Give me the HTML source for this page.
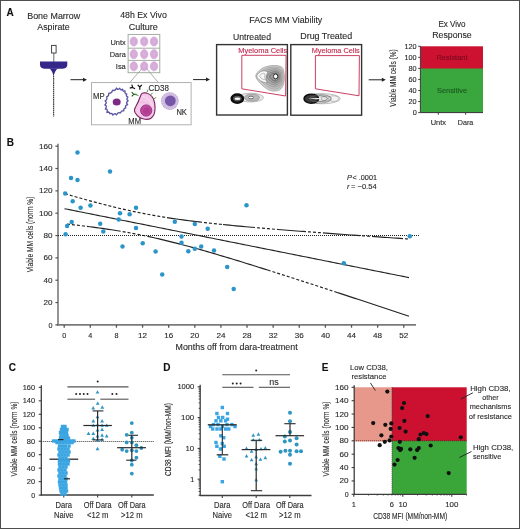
<!DOCTYPE html>
<html><head><meta charset="utf-8"><style>
html,body{margin:0;padding:0;background:#fff;}
svg{display:block;will-change:transform;}
text{font-family:"Liberation Sans", sans-serif;stroke-width:0.12px;}
</style></head><body>
<svg width="520" height="529" viewBox="0 0 520 529">
<rect x="0" y="0" width="520" height="529" fill="#fff"/>
<text x="6.60" y="16.30" font-size="10" fill="#111" stroke="#111" font-weight="bold">A</text>
<text x="53.70" y="19.00" font-size="9.6" fill="#2a2a2a" stroke="#2a2a2a" text-anchor="middle" textLength="53" lengthAdjust="spacingAndGlyphs">Bone Marrow</text>
<text x="53.50" y="29.80" font-size="9.6" fill="#2a2a2a" stroke="#2a2a2a" text-anchor="middle" textLength="32.3" lengthAdjust="spacingAndGlyphs">Aspirate</text>
<rect x="51.60" y="45.40" width="4.50" height="7.60" fill="#fff" stroke="#333" stroke-width="0.9"/>
<line x1="53.80" y1="53.00" x2="53.80" y2="62.00" stroke="#444" stroke-width="0.8"/>
<path d="M40,61.5 L67.3,61.5 L67.3,65 Q67,68.8 62,68.8 L45,68.8 Q40.3,68.8 40,65 Z" fill="#35278a"/>
<path d="M49.2,68.5 L58,68.5 Q54.5,70.5 53.6,77 Q52.7,70.5 49.2,68.5 Z" fill="#35278a"/>
<line x1="53.60" y1="76.00" x2="53.60" y2="116.50" stroke="#444" stroke-width="1.2" stroke-dasharray="1.6,0.5"/>
<line x1="70.50" y1="79.70" x2="84.00" y2="79.70" stroke="#222" stroke-width="1"/>
<path d="M87.00,79.70 L83.00,77.70 L83.00,81.70 Z" fill="#222"/>
<text x="143.50" y="18.30" font-size="9.6" fill="#2a2a2a" stroke="#2a2a2a" text-anchor="middle" textLength="46.7" lengthAdjust="spacingAndGlyphs">48h Ex Vivo</text>
<text x="143.20" y="29.80" font-size="9.6" fill="#2a2a2a" stroke="#2a2a2a" text-anchor="middle" textLength="29" lengthAdjust="spacingAndGlyphs">Culture</text>
<rect x="128.10" y="34.40" width="31.70" height="38.30" fill="#fff" stroke="#9aa59a" stroke-width="0.9"/>
<line x1="128.10" y1="48.20" x2="159.80" y2="48.20" stroke="#9aa59a" stroke-width="0.9"/>
<line x1="128.10" y1="60.40" x2="159.80" y2="60.40" stroke="#9aa59a" stroke-width="0.9"/>
<ellipse cx="133.8" cy="41.5" rx="3.7" ry="4.6" fill="#dab0dc" stroke="#cfa0d2" stroke-width="0.6"/>
<ellipse cx="133.8" cy="41.5" rx="2.2" ry="2.8" fill="none" stroke="#d0a0d4" stroke-width="0.6"/>
<ellipse cx="144.2" cy="41.5" rx="3.7" ry="4.6" fill="#dab0dc" stroke="#cfa0d2" stroke-width="0.6"/>
<ellipse cx="144.2" cy="41.5" rx="2.2" ry="2.8" fill="none" stroke="#d0a0d4" stroke-width="0.6"/>
<ellipse cx="154.0" cy="41.5" rx="3.7" ry="4.6" fill="#dab0dc" stroke="#cfa0d2" stroke-width="0.6"/>
<ellipse cx="154.0" cy="41.5" rx="2.2" ry="2.8" fill="none" stroke="#d0a0d4" stroke-width="0.6"/>
<ellipse cx="133.8" cy="54.2" rx="3.7" ry="4.6" fill="#dab0dc" stroke="#cfa0d2" stroke-width="0.6"/>
<ellipse cx="133.8" cy="54.2" rx="2.2" ry="2.8" fill="none" stroke="#d0a0d4" stroke-width="0.6"/>
<ellipse cx="144.2" cy="54.2" rx="3.7" ry="4.6" fill="#dab0dc" stroke="#cfa0d2" stroke-width="0.6"/>
<ellipse cx="144.2" cy="54.2" rx="2.2" ry="2.8" fill="none" stroke="#d0a0d4" stroke-width="0.6"/>
<ellipse cx="154.0" cy="54.2" rx="3.7" ry="4.6" fill="#dab0dc" stroke="#cfa0d2" stroke-width="0.6"/>
<ellipse cx="154.0" cy="54.2" rx="2.2" ry="2.8" fill="none" stroke="#d0a0d4" stroke-width="0.6"/>
<ellipse cx="133.8" cy="66.3" rx="3.7" ry="4.6" fill="#dab0dc" stroke="#cfa0d2" stroke-width="0.6"/>
<ellipse cx="133.8" cy="66.3" rx="2.2" ry="2.8" fill="none" stroke="#d0a0d4" stroke-width="0.6"/>
<ellipse cx="144.2" cy="66.3" rx="3.7" ry="4.6" fill="#dab0dc" stroke="#cfa0d2" stroke-width="0.6"/>
<ellipse cx="144.2" cy="66.3" rx="2.2" ry="2.8" fill="none" stroke="#d0a0d4" stroke-width="0.6"/>
<ellipse cx="154.0" cy="66.3" rx="3.7" ry="4.6" fill="#dab0dc" stroke="#cfa0d2" stroke-width="0.6"/>
<ellipse cx="154.0" cy="66.3" rx="2.2" ry="2.8" fill="none" stroke="#d0a0d4" stroke-width="0.6"/>
<text x="125.80" y="44.70" font-size="7.5" fill="#2a2a2a" stroke="#2a2a2a" text-anchor="end" textLength="15.3" lengthAdjust="spacingAndGlyphs">Untx</text>
<text x="125.80" y="56.80" font-size="7.5" fill="#2a2a2a" stroke="#2a2a2a" text-anchor="end" textLength="16" lengthAdjust="spacingAndGlyphs">Dara</text>
<text x="125.80" y="68.90" font-size="7.5" fill="#2a2a2a" stroke="#2a2a2a" text-anchor="end" textLength="10" lengthAdjust="spacingAndGlyphs">Isa</text>
<line x1="142.00" y1="68.50" x2="129.80" y2="82.50" stroke="#8a8a8a" stroke-width="0.7"/>
<line x1="146.50" y1="68.50" x2="158.30" y2="82.50" stroke="#8a8a8a" stroke-width="0.7"/>
<rect x="91.50" y="82.60" width="99.60" height="42.20" fill="none" stroke="#a8a8a8" stroke-width="0.9"/>
<text x="93.00" y="99.00" font-size="8.5" fill="#2a2a2a" stroke="#2a2a2a" textLength="11.6" lengthAdjust="spacingAndGlyphs">MP</text>
<path d="M108.66,95.01 L108.81,93.23 L110.56,93.04 L111.72,92.11 L112.59,90.17 L114.20,90.53 L115.39,89.94 L116.48,88.08 L117.50,89.30 L118.50,89.23 L119.73,88.25 L120.42,89.49 L121.32,89.79 L122.64,89.18 L122.92,90.64 L123.64,91.20 L125.04,90.97 L124.94,92.67 L125.51,93.54 L126.67,93.95 L126.40,95.43 L126.70,96.41 L127.92,97.01 L127.00,98.55 L127.02,99.72 L128.16,100.81 L126.82,102.09 L126.61,103.24 L127.62,104.64 L125.98,105.34 L125.56,106.37 L125.71,107.80 L124.49,108.34 L123.84,109.25 L123.69,110.82 L122.28,110.82 L121.32,111.49 L120.47,112.84 L119.00,112.67 L117.74,113.15 L116.48,114.87 L115.28,113.78 L114.18,113.89 L112.82,115.07 L112.13,113.71 L111.14,113.45 L109.85,113.71 L109.34,112.58 L108.57,111.99 L106.93,112.39 L107.39,110.44 L106.95,109.43 L105.37,109.10 L106.34,107.08 L106.16,105.83 L104.90,104.90 L106.09,103.38 L106.18,102.18 L105.16,100.84 L106.61,99.68 L106.96,98.42 L106.68,96.83 L107.98,96.06 Z" fill="#fff" stroke="#5a56a4" stroke-width="1.35" stroke-linejoin="round"/>
<ellipse cx="116.7" cy="102.1" rx="4.0" ry="3.5" fill="#7e2a84"/>
<path d="M143,93 C147,92.5 151.5,94.5 153.5,99 C155.5,104 155.5,111 154,114.5 C152,118.5 148.5,119.8 145,119.3 C141,118.8 137,116 135,112.5 C134,110.5 134.5,108.5 135.8,106.5 C137.5,103.5 139.5,99 140.5,96 C141,94.3 141.8,93.3 143,93 Z" fill="#f3c8e8" stroke="#7a2262" stroke-width="1.1"/>
<path d="M142,96.5 C146.5,96.5 151,100.5 152.5,106" fill="none" stroke="#f9e0f2" stroke-width="0.9"/>
<path d="M139,103 C143,101 149,103 151.5,108" fill="none" stroke="#eab4dc" stroke-width="0.7"/>
<circle cx="146.2" cy="110.5" r="5.6" fill="#c04a9e" stroke="#8e2a78" stroke-width="0.9"/>
<circle cx="146.5" cy="110.8" r="3.5" fill="#b03c94"/>
<line x1="147.00" y1="92.20" x2="148.00" y2="89.60" stroke="#5a9a3a" stroke-width="1.0"/>
<line x1="150.60" y1="95.00" x2="152.60" y2="92.80" stroke="#5a9a3a" stroke-width="1.0"/>
<line x1="153.60" y1="99.00" x2="156.20" y2="97.40" stroke="#5a9a3a" stroke-width="1.0"/>
<text x="148.60" y="91.30" font-size="9" fill="#2a2a2a" stroke="#2a2a2a" textLength="20.4" lengthAdjust="spacingAndGlyphs">CD38</text>
<g transform="translate(132.6,87.4) rotate(-60)"><path d="M0,0 L0,2.8 M0,0 L-2.1,-2.1 M0,0 L2.1,-2.1" stroke="#111" stroke-width="1.2" fill="none"/></g>
<g transform="translate(139.8,87.0) rotate(0)"><path d="M0,0 L0,2.8 M0,0 L-2.1,-2.1 M0,0 L2.1,-2.1" stroke="#111" stroke-width="1.2" fill="none"/></g>
<g transform="translate(133.8,94.3) rotate(-90)"><path d="M0,0 L0,2.8 M0,0 L-2.1,-2.1 M0,0 L2.1,-2.1" stroke="#2a5a2a" stroke-width="1.2" fill="none"/></g>
<path d="M134.5,94.3 L138.5,95.5" stroke="#4a8a3a" stroke-width="0.9"/>
<text x="128.30" y="124.30" font-size="8.5" fill="#2a2a2a" stroke="#2a2a2a" textLength="12.7" lengthAdjust="spacingAndGlyphs">MM</text>
<circle cx="169.8" cy="101" r="8.7" fill="#cdbade"/>
<circle cx="169.8" cy="101" r="7.4" fill="none" stroke="#e4d8ee" stroke-width="0.9" stroke-dasharray="1,1.3"/>
<circle cx="169.8" cy="101" r="8.4" fill="none" stroke="#b49ccc" stroke-width="0.8" stroke-dasharray="0.8,1"/>
<circle cx="170.3" cy="100.8" r="5.4" fill="#7656a8"/>
<text x="176.40" y="115.40" font-size="8.5" fill="#2a2a2a" stroke="#2a2a2a" textLength="10.5" lengthAdjust="spacingAndGlyphs">NK</text>
<line x1="193.10" y1="79.60" x2="207.00" y2="79.60" stroke="#222" stroke-width="1"/>
<path d="M210.00,79.60 L206.00,77.60 L206.00,81.60 Z" fill="#222"/>
<text x="285.80" y="23.20" font-size="9" fill="#2a2a2a" stroke="#2a2a2a" text-anchor="middle" textLength="73" lengthAdjust="spacingAndGlyphs">FACS MM Viability</text>
<text x="252.00" y="39.60" font-size="9" fill="#2a2a2a" stroke="#2a2a2a" text-anchor="middle" textLength="38" lengthAdjust="spacingAndGlyphs">Untreated</text>
<text x="326.20" y="39.40" font-size="9" fill="#2a2a2a" stroke="#2a2a2a" text-anchor="middle" textLength="51.9" lengthAdjust="spacingAndGlyphs">Drug Treated</text>
<rect x="216.60" y="44.60" width="70.80" height="70.40" fill="none" stroke="#333" stroke-width="1.4"/>
<rect x="290.80" y="44.60" width="70.80" height="70.60" fill="none" stroke="#333" stroke-width="1.4"/>
<path d="M241.8,55.3 L286.1,55.3 L285.6,96.0 L241.8,88.8 Z" fill="none" stroke="#c42a50" stroke-width="0.9"/>
<path d="M315.4,55.6 L359.4,55.6 L359.0,95.8 L315.4,88.8 Z" fill="none" stroke="#c42a50" stroke-width="0.9"/>
<text x="238.20" y="53.00" font-size="7.5" fill="#c42a50" stroke="#c42a50" textLength="49.1" lengthAdjust="spacingAndGlyphs">Myeloma Cells</text>
<text x="311.70" y="53.20" font-size="7.5" fill="#c42a50" stroke="#c42a50" textLength="48.1" lengthAdjust="spacingAndGlyphs">Myeloma Cells</text>
<path d="M255.80,76.00 L255.92,75.19 L256.22,74.36 L256.67,73.53 L257.24,72.71 L257.92,71.90 L258.68,71.12 L259.49,70.38 L260.33,69.69 L261.17,69.06 L262.00,68.50 L262.85,68.00 L263.76,67.56 L264.74,67.16 L265.75,66.80 L266.79,66.49 L267.85,66.23 L268.92,66.01 L269.97,65.83 L271.00,65.70 L272.00,65.60 L273.00,65.54 L274.04,65.52 L275.10,65.53 L276.16,65.58 L277.21,65.68 L278.21,65.83 L279.17,66.03 L280.04,66.29 L280.83,66.61 L281.50,67.00 L282.06,67.46 L282.53,67.99 L282.91,68.59 L283.23,69.25 L283.48,69.96 L283.68,70.72 L283.85,71.50 L283.98,72.32 L284.09,73.15 L284.20,74.00 L284.29,74.90 L284.36,75.87 L284.39,76.90 L284.39,77.97 L284.36,79.05 L284.29,80.13 L284.18,81.18 L284.03,82.20 L283.84,83.14 L283.60,84.00 L283.32,84.80 L283.01,85.58 L282.65,86.33 L282.26,87.04 L281.83,87.71 L281.35,88.33 L280.83,88.90 L280.27,89.40 L279.66,89.84 L279.00,90.20 L278.28,90.49 L277.47,90.72 L276.61,90.89 L275.69,91.00 L274.74,91.06 L273.78,91.05 L272.80,90.98 L271.84,90.85 L270.90,90.65 L270.00,90.40 L269.12,90.07 L268.22,89.65 L267.33,89.16 L266.43,88.60 L265.54,87.99 L264.67,87.34 L263.83,86.65 L263.01,85.94 L262.23,85.22 L261.50,84.50 L260.76,83.75 L259.99,82.95 L259.21,82.11 L258.45,81.24 L257.73,80.35 L257.09,79.45 L256.55,78.56 L256.13,77.68 L255.88,76.82 Z" fill="#cfcfcf" stroke="#8a8a8a" stroke-width="0.6"/>
<path d="M258.57,76.08 L258.68,75.39 L258.93,74.68 L259.32,73.96 L259.81,73.25 L260.39,72.56 L261.04,71.89 L261.74,71.25 L262.46,70.66 L263.19,70.11 L263.90,69.63 L264.63,69.21 L265.42,68.82 L266.26,68.48 L267.13,68.17 L268.03,67.91 L268.94,67.68 L269.85,67.49 L270.76,67.34 L271.65,67.22 L272.50,67.14 L273.36,67.09 L274.26,67.07 L275.17,67.08 L276.08,67.12 L276.98,67.21 L277.85,67.34 L278.67,67.51 L279.42,67.74 L280.10,68.01 L280.67,68.34 L281.16,68.74 L281.56,69.20 L281.89,69.71 L282.16,70.28 L282.38,70.89 L282.55,71.54 L282.69,72.22 L282.81,72.92 L282.91,73.64 L283.00,74.36 L283.07,75.13 L283.13,75.97 L283.16,76.86 L283.16,77.78 L283.13,78.71 L283.07,79.64 L282.98,80.54 L282.85,81.41 L282.68,82.22 L282.48,82.96 L282.24,83.65 L281.97,84.32 L281.67,84.97 L281.33,85.58 L280.95,86.16 L280.54,86.69 L280.10,87.18 L279.61,87.61 L279.09,87.99 L278.52,88.30 L277.90,88.55 L277.21,88.74 L276.47,88.89 L275.68,88.99 L274.86,89.03 L274.03,89.02 L273.19,88.96 L272.37,88.85 L271.56,88.69 L270.78,88.47 L270.02,88.18 L269.26,87.82 L268.48,87.40 L267.71,86.92 L266.95,86.40 L266.20,85.84 L265.48,85.25 L264.78,84.64 L264.11,84.02 L263.47,83.39 L262.84,82.75 L262.18,82.06 L261.50,81.34 L260.85,80.59 L260.23,79.82 L259.68,79.05 L259.21,78.28 L258.86,77.53 L258.64,76.79 Z" fill="#c4c4c4" stroke="#8a8a8a" stroke-width="0.5"/>
<path d="M261.34,76.17 L261.43,75.58 L261.64,74.99 L261.97,74.39 L262.38,73.80 L262.87,73.22 L263.41,72.65 L264.00,72.12 L264.60,71.62 L265.21,71.17 L265.81,70.77 L266.42,70.41 L267.08,70.09 L267.78,69.80 L268.51,69.55 L269.26,69.32 L270.02,69.13 L270.79,68.97 L271.55,68.85 L272.29,68.75 L273.01,68.68 L273.73,68.64 L274.48,68.62 L275.24,68.63 L276.00,68.67 L276.76,68.74 L277.48,68.85 L278.17,68.99 L278.80,69.18 L279.36,69.41 L279.85,69.69 L280.25,70.02 L280.59,70.40 L280.87,70.84 L281.09,71.31 L281.27,71.82 L281.42,72.36 L281.54,72.93 L281.63,73.52 L281.72,74.12 L281.79,74.73 L281.86,75.37 L281.90,76.07 L281.93,76.82 L281.93,77.58 L281.90,78.36 L281.85,79.14 L281.78,79.90 L281.67,80.63 L281.53,81.31 L281.36,81.93 L281.16,82.50 L280.93,83.07 L280.68,83.60 L280.39,84.12 L280.08,84.60 L279.74,85.05 L279.37,85.46 L278.96,85.82 L278.52,86.13 L278.05,86.39 L277.53,86.60 L276.95,86.77 L276.33,86.89 L275.67,86.97 L274.98,87.01 L274.29,87.00 L273.59,86.95 L272.89,86.86 L272.22,86.72 L271.57,86.54 L270.93,86.30 L270.29,86.00 L269.64,85.64 L269.00,85.24 L268.36,84.80 L267.73,84.33 L267.12,83.84 L266.54,83.33 L265.98,82.81 L265.45,82.29 L264.92,81.75 L264.36,81.17 L263.80,80.57 L263.25,79.94 L262.73,79.30 L262.27,78.65 L261.88,78.01 L261.58,77.38 L261.40,76.76 Z" fill="#bababa" stroke="#7a7a7a" stroke-width="0.5"/>
<path d="M264.12,76.25 L264.19,75.78 L264.36,75.30 L264.62,74.82 L264.95,74.34 L265.34,73.87 L265.78,73.42 L266.25,72.99 L266.74,72.59 L267.23,72.23 L267.71,71.90 L268.20,71.61 L268.74,71.35 L269.30,71.12 L269.89,70.92 L270.49,70.74 L271.11,70.59 L271.72,70.46 L272.34,70.35 L272.93,70.28 L273.51,70.22 L274.09,70.19 L274.70,70.17 L275.31,70.18 L275.93,70.21 L276.53,70.27 L277.12,70.35 L277.67,70.47 L278.18,70.62 L278.63,70.81 L279.02,71.03 L279.35,71.30 L279.62,71.61 L279.84,71.96 L280.02,72.34 L280.17,72.75 L280.29,73.19 L280.38,73.64 L280.46,74.12 L280.53,74.60 L280.59,75.09 L280.64,75.61 L280.68,76.18 L280.70,76.77 L280.70,77.39 L280.68,78.02 L280.64,78.65 L280.58,79.26 L280.49,79.85 L280.38,80.39 L280.24,80.89 L280.08,81.36 L279.90,81.81 L279.69,82.24 L279.46,82.66 L279.21,83.05 L278.93,83.41 L278.63,83.73 L278.31,84.03 L277.95,84.28 L277.57,84.49 L277.15,84.66 L276.69,84.79 L276.18,84.89 L275.65,84.95 L275.10,84.98 L274.54,84.98 L273.98,84.94 L273.42,84.86 L272.87,84.75 L272.35,84.60 L271.84,84.41 L271.32,84.17 L270.80,83.88 L270.28,83.56 L269.77,83.21 L269.26,82.83 L268.77,82.43 L268.30,82.02 L267.85,81.60 L267.42,81.18 L266.99,80.75 L266.55,80.28 L266.09,79.80 L265.65,79.29 L265.24,78.77 L264.86,78.25 L264.55,77.74 L264.31,77.23 L264.16,76.73 Z" fill="#b0b0b0" stroke="#6a6a6a" stroke-width="0.5"/>
<path d="M266.89,76.34 L266.94,75.98 L267.07,75.62 L267.27,75.25 L267.52,74.89 L267.82,74.53 L268.15,74.19 L268.51,73.86 L268.88,73.56 L269.25,73.28 L269.62,73.04 L269.99,72.82 L270.39,72.62 L270.82,72.44 L271.27,72.29 L271.73,72.15 L272.19,72.04 L272.66,71.94 L273.12,71.86 L273.58,71.80 L274.02,71.76 L274.46,71.73 L274.91,71.72 L275.38,71.73 L275.85,71.75 L276.31,71.80 L276.75,71.86 L277.17,71.95 L277.56,72.06 L277.90,72.21 L278.20,72.38 L278.44,72.58 L278.65,72.81 L278.82,73.08 L278.96,73.37 L279.07,73.68 L279.16,74.01 L279.23,74.36 L279.29,74.72 L279.34,75.08 L279.38,75.46 L279.42,75.85 L279.45,76.28 L279.47,76.73 L279.47,77.20 L279.45,77.68 L279.42,78.15 L279.37,78.62 L279.31,79.06 L279.22,79.48 L279.12,79.86 L279.00,80.21 L278.86,80.55 L278.70,80.88 L278.53,81.19 L278.34,81.49 L278.13,81.76 L277.90,82.01 L277.65,82.23 L277.38,82.43 L277.10,82.58 L276.78,82.71 L276.42,82.81 L276.04,82.89 L275.64,82.94 L275.22,82.96 L274.80,82.96 L274.37,82.93 L273.94,82.87 L273.53,82.78 L273.14,82.67 L272.75,82.53 L272.35,82.34 L271.96,82.13 L271.57,81.88 L271.18,81.61 L270.79,81.33 L270.42,81.02 L270.06,80.71 L269.72,80.39 L269.40,80.08 L269.07,79.75 L268.73,79.39 L268.39,79.02 L268.05,78.64 L267.74,78.25 L267.46,77.86 L267.22,77.46 L267.03,77.07 L266.92,76.70 Z" fill="#a4a4a4" stroke="#555" stroke-width="0.5"/>
<path d="M269.66,76.42 L269.70,76.18 L269.79,75.93 L269.92,75.68 L270.09,75.43 L270.30,75.19 L270.52,74.96 L270.77,74.73 L271.02,74.53 L271.27,74.34 L271.52,74.17 L271.77,74.02 L272.05,73.89 L272.34,73.77 L272.65,73.66 L272.96,73.57 L273.28,73.49 L273.60,73.42 L273.91,73.37 L274.22,73.33 L274.52,73.30 L274.82,73.28 L275.13,73.27 L275.45,73.28 L275.77,73.29 L276.08,73.32 L276.38,73.37 L276.67,73.43 L276.93,73.51 L277.17,73.60 L277.37,73.72 L277.54,73.86 L277.68,74.02 L277.79,74.20 L277.89,74.40 L277.96,74.61 L278.03,74.83 L278.07,75.07 L278.11,75.32 L278.15,75.57 L278.18,75.82 L278.21,76.09 L278.23,76.38 L278.24,76.69 L278.24,77.01 L278.23,77.33 L278.21,77.66 L278.17,77.98 L278.13,78.28 L278.07,78.56 L278.00,78.82 L277.92,79.06 L277.82,79.29 L277.72,79.52 L277.60,79.73 L277.47,79.93 L277.32,80.12 L277.17,80.29 L277.00,80.44 L276.82,80.57 L276.62,80.68 L276.40,80.77 L276.16,80.84 L275.90,80.89 L275.63,80.92 L275.34,80.94 L275.05,80.93 L274.76,80.91 L274.47,80.87 L274.19,80.82 L273.92,80.74 L273.66,80.64 L273.39,80.52 L273.12,80.37 L272.85,80.20 L272.58,80.02 L272.32,79.82 L272.07,79.62 L271.82,79.40 L271.59,79.19 L271.37,78.97 L271.15,78.75 L270.92,78.51 L270.68,78.25 L270.45,77.99 L270.24,77.72 L270.05,77.46 L269.88,77.19 L269.76,76.92 L269.68,76.67 Z" fill="#999" stroke="#333" stroke-width="0.5"/>
<ellipse cx="275.6" cy="76.4" rx="2.2" ry="2.4" fill="#fff" stroke="#222" stroke-width="0.9"/>
<path d="M256.5,76 C259,71 264,69.5 268,72 C266,75 265,79 267.5,83 C262,82.5 258,80 256.5,76 Z" fill="#f6f6f6" stroke="#777" stroke-width="0.6"/>
<path d="M259.5,76 C261,73.5 263.5,72.8 265,74 C264.5,76 264.5,78 265.5,80 C262.5,79.5 260.5,78 259.5,76 Z" fill="none" stroke="#888" stroke-width="0.5"/>
<ellipse cx="250.50" cy="97.60" rx="13.00" ry="4.40" fill="#e8e8e8" stroke="#9a9a9a" stroke-width="0.6" stroke-opacity="1"/>
<ellipse cx="252.00" cy="97.60" rx="7.50" ry="3.60" fill="#b8b8b8" stroke="#888" stroke-width="0.6" stroke-opacity="1"/>
<ellipse cx="237.30" cy="98.60" rx="5.60" ry="4.10" fill="#555" stroke="#0d0d0d" stroke-width="2.6" stroke-opacity="1"/>
<ellipse cx="237.50" cy="98.70" rx="2.90" ry="1.30" fill="#f4f4f4" stroke="none" stroke-width="0" stroke-opacity="1"/>
<ellipse cx="251.00" cy="97.50" rx="2.50" ry="1.30" fill="#fafafa" stroke="#444" stroke-width="0.7" stroke-opacity="1"/>
<ellipse cx="322.00" cy="98.70" rx="18.20" ry="5.10" fill="#f3f3f3" stroke="#999" stroke-width="0.6" stroke-opacity="1"/>
<ellipse cx="318.00" cy="98.70" rx="13.50" ry="4.50" fill="#dedede" stroke="#777" stroke-width="0.6" stroke-opacity="1"/>
<ellipse cx="311.30" cy="98.70" rx="7.20" ry="4.50" fill="#3a3a3a" stroke="#111" stroke-width="1.6" stroke-opacity="1"/>
<ellipse cx="318.50" cy="98.60" rx="9.00" ry="3.00" fill="none" stroke="#666" stroke-width="0.7" stroke-opacity="1"/>
<path d="M308.2,98.6 Q317,97.4 326.5,98.5 Q317,99.7 308.2,98.6 Z" fill="#f2f2f2"/>
<ellipse cx="333.50" cy="98.60" rx="5.20" ry="2.80" fill="none" stroke="#999" stroke-width="0.6" stroke-opacity="1"/>
<ellipse cx="326.00" cy="98.60" rx="4.50" ry="2.60" fill="none" stroke="#777" stroke-width="0.6" stroke-opacity="1"/>
<line x1="368.70" y1="79.80" x2="382.80" y2="79.80" stroke="#222" stroke-width="1"/>
<path d="M385.80,79.80 L381.80,77.80 L381.80,81.80 Z" fill="#222"/>
<text x="452.00" y="27.00" font-size="8.5" fill="#2a2a2a" stroke="#2a2a2a" text-anchor="middle" textLength="27.2" lengthAdjust="spacingAndGlyphs">Ex Vivo</text>
<text x="452.00" y="38.20" font-size="8.5" fill="#2a2a2a" stroke="#2a2a2a" text-anchor="middle" textLength="39.5" lengthAdjust="spacingAndGlyphs">Response</text>
<text transform="translate(392.80,78.00) rotate(-90)" x="0" y="2.99" font-size="8.3" fill="#2a2a2a" stroke="#2a2a2a" stroke-width="0.3" text-anchor="middle" textLength="57.5" lengthAdjust="spacingAndGlyphs">Viable MM cells (%)</text>
<rect x="420.90" y="46.30" width="62.10" height="23.00" fill="#cc1131" stroke="none" stroke-width="1"/>
<rect x="420.90" y="68.50" width="62.10" height="44.00" fill="#3aa63e" stroke="none" stroke-width="1"/>
<line x1="420.40" y1="46.00" x2="420.40" y2="112.60" stroke="#333" stroke-width="1"/>
<line x1="420.40" y1="112.60" x2="483.00" y2="112.60" stroke="#333" stroke-width="1"/>
<line x1="418.20" y1="112.60" x2="420.40" y2="112.60" stroke="#333" stroke-width="0.9"/>
<text x="416.70" y="115.10" font-size="7.3" fill="#2a2a2a" stroke="#2a2a2a" text-anchor="end">0</text>
<line x1="418.20" y1="101.55" x2="420.40" y2="101.55" stroke="#333" stroke-width="0.9"/>
<text x="416.70" y="104.05" font-size="7.3" fill="#2a2a2a" stroke="#2a2a2a" text-anchor="end">20</text>
<line x1="418.20" y1="90.50" x2="420.40" y2="90.50" stroke="#333" stroke-width="0.9"/>
<text x="416.70" y="93.00" font-size="7.3" fill="#2a2a2a" stroke="#2a2a2a" text-anchor="end">40</text>
<line x1="418.20" y1="79.45" x2="420.40" y2="79.45" stroke="#333" stroke-width="0.9"/>
<text x="416.70" y="81.95" font-size="7.3" fill="#2a2a2a" stroke="#2a2a2a" text-anchor="end">60</text>
<line x1="418.20" y1="68.40" x2="420.40" y2="68.40" stroke="#333" stroke-width="0.9"/>
<text x="416.70" y="70.90" font-size="7.3" fill="#2a2a2a" stroke="#2a2a2a" text-anchor="end">80</text>
<line x1="418.20" y1="57.35" x2="420.40" y2="57.35" stroke="#333" stroke-width="0.9"/>
<text x="416.70" y="59.85" font-size="7.3" fill="#2a2a2a" stroke="#2a2a2a" text-anchor="end">100</text>
<line x1="418.20" y1="46.30" x2="420.40" y2="46.30" stroke="#333" stroke-width="0.9"/>
<text x="416.70" y="48.80" font-size="7.3" fill="#2a2a2a" stroke="#2a2a2a" text-anchor="end">120</text>
<line x1="438.30" y1="112.60" x2="438.30" y2="114.80" stroke="#333" stroke-width="0.9"/>
<line x1="465.60" y1="112.60" x2="465.60" y2="114.80" stroke="#333" stroke-width="0.9"/>
<text x="438.30" y="125.30" font-size="7.5" fill="#2a2a2a" stroke="#2a2a2a" text-anchor="middle" textLength="15.3" lengthAdjust="spacingAndGlyphs">Untx</text>
<text x="465.60" y="125.30" font-size="7.5" fill="#2a2a2a" stroke="#2a2a2a" text-anchor="middle" textLength="15.5" lengthAdjust="spacingAndGlyphs">Dara</text>
<text x="452.00" y="60.30" font-size="7.5" fill="#7a0c1e" stroke="#7a0c1e" text-anchor="middle" textLength="31" lengthAdjust="spacingAndGlyphs">Resistant</text>
<text x="452.00" y="93.20" font-size="7.5" fill="#1a5a1e" stroke="#1a5a1e" text-anchor="middle" textLength="30" lengthAdjust="spacingAndGlyphs">Sensitive</text>
<text x="6.80" y="146.20" font-size="10" fill="#111" stroke="#111" font-weight="bold">B</text>
<line x1="58.00" y1="143.68" x2="58.00" y2="325.60" stroke="#7a7a7a" stroke-width="1.6"/>
<line x1="57.20" y1="324.90" x2="416.00" y2="324.90" stroke="#7a7a7a" stroke-width="1.6"/>
<line x1="55.40" y1="324.90" x2="58.00" y2="324.90" stroke="#555" stroke-width="1.2"/>
<text x="52.60" y="327.50" font-size="7.2" fill="#2a2a2a" stroke="#2a2a2a" text-anchor="end">0</text>
<line x1="55.40" y1="302.56" x2="58.00" y2="302.56" stroke="#555" stroke-width="1.2"/>
<text x="52.60" y="305.16" font-size="7.2" fill="#2a2a2a" stroke="#2a2a2a" text-anchor="end" textLength="9.0" lengthAdjust="spacingAndGlyphs">20</text>
<line x1="55.40" y1="280.22" x2="58.00" y2="280.22" stroke="#555" stroke-width="1.2"/>
<text x="52.60" y="282.82" font-size="7.2" fill="#2a2a2a" stroke="#2a2a2a" text-anchor="end" textLength="9.0" lengthAdjust="spacingAndGlyphs">40</text>
<line x1="55.40" y1="257.88" x2="58.00" y2="257.88" stroke="#555" stroke-width="1.2"/>
<text x="52.60" y="260.48" font-size="7.2" fill="#2a2a2a" stroke="#2a2a2a" text-anchor="end" textLength="9.0" lengthAdjust="spacingAndGlyphs">60</text>
<line x1="55.40" y1="235.54" x2="58.00" y2="235.54" stroke="#555" stroke-width="1.2"/>
<text x="52.60" y="238.14" font-size="7.2" fill="#2a2a2a" stroke="#2a2a2a" text-anchor="end" textLength="9.0" lengthAdjust="spacingAndGlyphs">80</text>
<line x1="55.40" y1="213.20" x2="58.00" y2="213.20" stroke="#555" stroke-width="1.2"/>
<text x="52.60" y="215.80" font-size="7.2" fill="#2a2a2a" stroke="#2a2a2a" text-anchor="end" textLength="13.6" lengthAdjust="spacingAndGlyphs">100</text>
<line x1="55.40" y1="190.86" x2="58.00" y2="190.86" stroke="#555" stroke-width="1.2"/>
<text x="52.60" y="193.46" font-size="7.2" fill="#2a2a2a" stroke="#2a2a2a" text-anchor="end" textLength="13.6" lengthAdjust="spacingAndGlyphs">120</text>
<line x1="55.40" y1="168.52" x2="58.00" y2="168.52" stroke="#555" stroke-width="1.2"/>
<text x="52.60" y="171.12" font-size="7.2" fill="#2a2a2a" stroke="#2a2a2a" text-anchor="end" textLength="13.6" lengthAdjust="spacingAndGlyphs">140</text>
<line x1="55.40" y1="146.18" x2="58.00" y2="146.18" stroke="#555" stroke-width="1.2"/>
<text x="52.60" y="148.78" font-size="7.2" fill="#2a2a2a" stroke="#2a2a2a" text-anchor="end" textLength="13.6" lengthAdjust="spacingAndGlyphs">160</text>
<line x1="64.20" y1="324.90" x2="64.20" y2="327.70" stroke="#555" stroke-width="1.3"/>
<text x="64.20" y="337.50" font-size="7.2" fill="#2a2a2a" stroke="#2a2a2a" text-anchor="middle">0</text>
<line x1="90.32" y1="324.90" x2="90.32" y2="327.70" stroke="#555" stroke-width="1.3"/>
<text x="90.32" y="337.50" font-size="7.2" fill="#2a2a2a" stroke="#2a2a2a" text-anchor="middle">4</text>
<line x1="116.44" y1="324.90" x2="116.44" y2="327.70" stroke="#555" stroke-width="1.3"/>
<text x="116.44" y="337.50" font-size="7.2" fill="#2a2a2a" stroke="#2a2a2a" text-anchor="middle">8</text>
<line x1="142.56" y1="324.90" x2="142.56" y2="327.70" stroke="#555" stroke-width="1.3"/>
<text x="142.56" y="337.50" font-size="7.2" fill="#2a2a2a" stroke="#2a2a2a" text-anchor="middle" textLength="9.0" lengthAdjust="spacingAndGlyphs">12</text>
<line x1="168.68" y1="324.90" x2="168.68" y2="327.70" stroke="#555" stroke-width="1.3"/>
<text x="168.68" y="337.50" font-size="7.2" fill="#2a2a2a" stroke="#2a2a2a" text-anchor="middle" textLength="9.0" lengthAdjust="spacingAndGlyphs">16</text>
<line x1="194.80" y1="324.90" x2="194.80" y2="327.70" stroke="#555" stroke-width="1.3"/>
<text x="194.80" y="337.50" font-size="7.2" fill="#2a2a2a" stroke="#2a2a2a" text-anchor="middle" textLength="9.0" lengthAdjust="spacingAndGlyphs">20</text>
<line x1="220.92" y1="324.90" x2="220.92" y2="327.70" stroke="#555" stroke-width="1.3"/>
<text x="220.92" y="337.50" font-size="7.2" fill="#2a2a2a" stroke="#2a2a2a" text-anchor="middle" textLength="9.0" lengthAdjust="spacingAndGlyphs">24</text>
<line x1="247.04" y1="324.90" x2="247.04" y2="327.70" stroke="#555" stroke-width="1.3"/>
<text x="247.04" y="337.50" font-size="7.2" fill="#2a2a2a" stroke="#2a2a2a" text-anchor="middle" textLength="9.0" lengthAdjust="spacingAndGlyphs">28</text>
<line x1="273.16" y1="324.90" x2="273.16" y2="327.70" stroke="#555" stroke-width="1.3"/>
<text x="273.16" y="337.50" font-size="7.2" fill="#2a2a2a" stroke="#2a2a2a" text-anchor="middle" textLength="9.0" lengthAdjust="spacingAndGlyphs">32</text>
<line x1="299.28" y1="324.90" x2="299.28" y2="327.70" stroke="#555" stroke-width="1.3"/>
<text x="299.28" y="337.50" font-size="7.2" fill="#2a2a2a" stroke="#2a2a2a" text-anchor="middle" textLength="9.0" lengthAdjust="spacingAndGlyphs">36</text>
<line x1="325.40" y1="324.90" x2="325.40" y2="327.70" stroke="#555" stroke-width="1.3"/>
<text x="325.40" y="337.50" font-size="7.2" fill="#2a2a2a" stroke="#2a2a2a" text-anchor="middle" textLength="9.0" lengthAdjust="spacingAndGlyphs">40</text>
<line x1="351.52" y1="324.90" x2="351.52" y2="327.70" stroke="#555" stroke-width="1.3"/>
<text x="351.52" y="337.50" font-size="7.2" fill="#2a2a2a" stroke="#2a2a2a" text-anchor="middle" textLength="9.0" lengthAdjust="spacingAndGlyphs">44</text>
<line x1="377.64" y1="324.90" x2="377.64" y2="327.70" stroke="#555" stroke-width="1.3"/>
<text x="377.64" y="337.50" font-size="7.2" fill="#2a2a2a" stroke="#2a2a2a" text-anchor="middle" textLength="9.0" lengthAdjust="spacingAndGlyphs">48</text>
<line x1="403.76" y1="324.90" x2="403.76" y2="327.70" stroke="#555" stroke-width="1.3"/>
<text x="403.76" y="337.50" font-size="7.2" fill="#2a2a2a" stroke="#2a2a2a" text-anchor="middle" textLength="9.0" lengthAdjust="spacingAndGlyphs">52</text>
<text x="236.60" y="350.40" font-size="9.3" fill="#2a2a2a" stroke="#2a2a2a" text-anchor="middle" textLength="122.2" lengthAdjust="spacingAndGlyphs">Months off from dara-treatment</text>
<text transform="translate(30.20,234.40) rotate(-90)" x="0" y="3.06" font-size="8.5" fill="#2a2a2a" stroke="#2a2a2a" stroke-width="0.3" text-anchor="middle" textLength="75.6" lengthAdjust="spacingAndGlyphs">Viable MM cells (norm %)</text>
<text x="347.00" y="179.80" font-size="7.3" fill="#2a2a2a" stroke="#2a2a2a" font-style="italic">P</text>
<text x="352.50" y="179.80" font-size="7.3" fill="#2a2a2a" stroke="#2a2a2a" textLength="24.5" lengthAdjust="spacingAndGlyphs">&lt; .0001</text>
<text x="347.00" y="188.80" font-size="7.3" fill="#2a2a2a" stroke="#2a2a2a" font-style="italic">r</text>
<text x="351.00" y="188.80" font-size="7.3" fill="#2a2a2a" stroke="#2a2a2a" textLength="25.6" lengthAdjust="spacingAndGlyphs">= −0.54</text>
<line x1="58.00" y1="235.50" x2="419.00" y2="235.50" stroke="#222" stroke-width="1.0" stroke-dasharray="1,1"/>
<path d="M64.50,208.70 L67.52,209.30 L70.54,209.91 L73.57,210.51 L76.59,211.12 L79.61,211.72 L82.63,212.33 L85.65,212.93 L88.68,213.54 L91.70,214.14 L94.72,214.74 L97.74,215.35 L100.76,215.95 L103.79,216.56 L106.81,217.16 L109.83,217.77 L112.85,218.37 L115.87,218.97 L118.89,219.58 L121.92,220.18 L124.94,220.79 L127.96,221.39 L130.98,222.00 L134.00,222.60 L137.03,223.21 L140.05,223.81 L143.07,224.41 L146.09,225.02 L149.11,225.62 L152.14,226.23 L155.16,226.83 L158.18,227.44 L161.20,228.04 L164.22,228.64 L167.25,229.25 L170.27,229.85 L173.29,230.46 L176.31,231.06 L179.33,231.67 L182.36,232.27 L185.38,232.88 L188.40,233.48 L191.42,234.08 L194.44,234.69 L197.46,235.29 L200.49,235.90 L203.51,236.50 L206.53,237.11 L209.55,237.71 L212.57,238.31 L215.60,238.92 L218.62,239.52 L221.64,240.13 L224.66,240.73 L227.68,241.34 L230.71,241.94 L233.73,242.55 L236.75,243.15 L239.77,243.75 L242.79,244.36 L245.82,244.96 L248.84,245.57 L251.86,246.17 L254.88,246.78 L257.90,247.38 L260.93,247.99 L263.95,248.59 L266.97,249.19 L269.99,249.80 L273.01,250.40 L276.04,251.01 L279.06,251.61 L282.08,252.22 L285.10,252.82 L288.12,253.42 L291.14,254.03 L294.17,254.63 L297.19,255.24 L300.21,255.84 L303.23,256.45 L306.25,257.05 L309.28,257.66 L312.30,258.26 L315.32,258.86 L318.34,259.47 L321.36,260.07 L324.39,260.68 L327.41,261.28 L330.43,261.89 L333.45,262.49 L336.47,263.09 L339.50,263.70 L342.52,264.30 L345.54,264.91 L348.56,265.51 L351.58,266.12 L354.61,266.72 L357.63,267.33 L360.65,267.93 L363.67,268.53 L366.69,269.14 L369.71,269.74 L372.74,270.35 L375.76,270.95 L378.78,271.56 L381.80,272.16 L384.82,272.76 L387.85,273.37 L390.87,273.97 L393.89,274.58 L396.91,275.18 L399.93,275.79 L402.96,276.39 L405.98,277.00 L409.00,277.60" fill="none" stroke="#222" stroke-width="1.1"/>
<path d="M65.00,193.72 L68.00,194.60 L71.00,195.47 L74.00,196.34 L77.00,197.20 L80.00,198.05 L83.00,198.89 L86.00,199.73 L89.00,200.56 L92.00,201.37 L95.00,202.18 L98.00,202.98 L101.00,203.76 L104.00,204.54 L107.00,205.30 L110.00,206.05 L113.00,206.79 L116.00,207.52 L119.00,208.23 L122.00,208.93 L125.00,209.61 L128.00,210.28 L131.00,210.93 L134.00,211.57 L137.00,212.19 L140.00,212.80 L143.00,213.39 L146.00,213.97 L149.00,214.53 L152.00,215.08 L155.00,215.61 L158.00,216.13 L161.00,216.63 L164.00,217.12 L167.00,217.59" fill="none" stroke="#222" stroke-width="1.15" stroke-dasharray="3,2"/>
<path d="M167.00,217.59 L170.20,218.08 L173.40,218.56 L176.60,219.02 L179.80,219.47 L183.00,219.91 L186.20,220.34 L189.40,220.75 L192.60,221.16 L195.80,221.55 L199.00,221.93" fill="none" stroke="#222" stroke-width="1.15"/>
<path d="M199.00,221.93 L202.00,222.28 L205.00,222.63 L208.00,222.96 L211.00,223.29 L214.00,223.62 L217.00,223.93 L220.00,224.24 L223.00,224.55" fill="none" stroke="#222" stroke-width="1.15" stroke-dasharray="3,2"/>
<path d="M223.00,224.55 L226.22,224.87 L229.44,225.19 L232.67,225.50 L235.89,225.81 L239.11,226.11 L242.33,226.41 L245.56,226.70 L248.78,226.99 L252.00,227.28" fill="none" stroke="#222" stroke-width="1.15"/>
<path d="M252.00,227.28 L255.25,227.56 L258.50,227.84 L261.75,228.12 L265.00,228.40 L268.25,228.67 L271.50,228.94 L274.75,229.21 L278.00,229.47" fill="none" stroke="#222" stroke-width="1.15" stroke-dasharray="3,2"/>
<path d="M278.00,229.47 L281.12,229.72 L284.25,229.97 L287.38,230.22 L290.50,230.47 L293.62,230.71 L296.75,230.96 L299.88,231.20 L303.00,231.44" fill="none" stroke="#222" stroke-width="1.15"/>
<path d="M303.00,231.44 L306.29,231.69 L309.57,231.94 L312.86,232.19 L316.14,232.43 L319.43,232.68 L322.71,232.92 L326.00,233.16" fill="none" stroke="#222" stroke-width="1.15" stroke-dasharray="3,2"/>
<path d="M326.00,233.16 L329.10,233.39 L332.20,233.62 L335.30,233.84 L338.40,234.07 L341.50,234.29 L344.60,234.52 L347.70,234.74 L350.80,234.96 L353.90,235.18 L357.00,235.40" fill="none" stroke="#222" stroke-width="1.15"/>
<path d="M357.00,235.40 L360.00,235.62 L363.00,235.83 L366.00,236.04 L369.00,236.25 L372.00,236.46" fill="none" stroke="#222" stroke-width="1.15" stroke-dasharray="3,2"/>
<path d="M372.00,236.46 L375.11,236.68 L378.22,236.90 L381.33,237.11 L384.44,237.33 L387.56,237.54 L390.67,237.76 L393.78,237.97 L396.89,238.19 L400.00,238.40" fill="none" stroke="#222" stroke-width="1.15"/>
<path d="M400.00,238.40 L403.17,238.62 L406.33,238.84 L409.50,239.05" fill="none" stroke="#222" stroke-width="1.15" stroke-dasharray="3,2"/>
<path d="M67.00,224.09 L70.29,224.45 L73.57,224.81 L76.86,225.18 L80.14,225.57 L83.43,225.96 L86.71,226.36 L90.00,226.77" fill="none" stroke="#222" stroke-width="1.15" stroke-dasharray="3,2"/>
<path d="M90.00,226.77 L93.08,227.17 L96.16,227.57 L99.23,227.99 L102.31,228.42 L105.39,228.86 L108.47,229.32 L111.54,229.78 L114.62,230.26 L117.70,230.76" fill="none" stroke="#222" stroke-width="1.15"/>
<path d="M117.70,230.76 L120.93,231.29 L124.16,231.85 L127.39,232.41 L130.62,233.00 L133.85,233.60 L137.08,234.22 L140.31,234.86 L143.54,235.52 L146.77,236.19 L150.00,236.89" fill="none" stroke="#222" stroke-width="1.15" stroke-dasharray="3,2"/>
<path d="M150.00,236.89 L153.02,237.55 L156.04,238.23 L159.05,238.92 L162.07,239.63 L165.09,240.35 L168.11,241.08 L171.13,241.83 L174.14,242.59 L177.16,243.36 L180.18,244.14 L183.20,244.94 L186.22,245.75 L189.23,246.56 L192.25,247.39 L195.27,248.22 L198.29,249.07 L201.31,249.92 L204.32,250.78 L207.34,251.65 L210.36,252.52 L213.38,253.40 L216.39,254.29 L219.41,255.18 L222.43,256.08 L225.45,256.98 L228.47,257.89 L231.48,258.81 L234.50,259.72 L237.52,260.65 L240.54,261.57 L243.56,262.50 L246.57,263.44 L249.59,264.37 L252.61,265.31 L255.63,266.26 L258.65,267.20 L261.66,268.15 L264.68,269.10 L267.70,270.06" fill="none" stroke="#222" stroke-width="1.15"/>
<path d="M267.70,270.06 L270.71,271.01 L273.73,271.97 L276.74,272.93 L279.75,273.89 L282.77,274.85 L285.78,275.82 L288.79,276.78 L291.80,277.75 L294.82,278.72 L297.83,279.69 L300.84,280.67 L303.86,281.64 L306.87,282.62 L309.88,283.59 L312.90,284.57 L315.91,285.55 L318.92,286.53 L321.93,287.51 L324.95,288.49 L327.96,289.48 L330.97,290.46 L333.99,291.45 L337.00,292.43" fill="none" stroke="#222" stroke-width="1.15" stroke-dasharray="3,2"/>
<path d="M337.00,292.43 L340.00,293.41 L343.00,294.40 L346.00,295.38 L349.00,296.37 L352.00,297.35 L355.00,298.34 L358.00,299.32 L361.00,300.31 L364.00,301.30 L367.00,302.29 L370.00,303.28 L373.00,304.27 L376.00,305.26 L379.00,306.25 L382.00,307.24 L385.00,308.23 L388.00,309.22 L391.00,310.22 L394.00,311.21 L397.00,312.20 L400.00,313.20 L403.00,314.19 L406.00,315.19 L409.00,316.18" fill="none" stroke="#222" stroke-width="1.15"/>
<circle cx="77.50" cy="152.50" r="2.25" fill="#2b95c9"/>
<circle cx="71.00" cy="177.90" r="2.25" fill="#2b95c9"/>
<circle cx="77.50" cy="180.00" r="2.25" fill="#2b95c9"/>
<circle cx="110.00" cy="171.50" r="2.25" fill="#2b95c9"/>
<circle cx="65.20" cy="193.50" r="2.25" fill="#2b95c9"/>
<circle cx="72.70" cy="201.20" r="2.25" fill="#2b95c9"/>
<circle cx="80.60" cy="207.70" r="2.25" fill="#2b95c9"/>
<circle cx="90.40" cy="205.40" r="2.25" fill="#2b95c9"/>
<circle cx="136.00" cy="207.70" r="2.25" fill="#2b95c9"/>
<circle cx="120.00" cy="213.30" r="2.25" fill="#2b95c9"/>
<circle cx="129.60" cy="214.20" r="2.25" fill="#2b95c9"/>
<circle cx="118.70" cy="219.40" r="2.25" fill="#2b95c9"/>
<circle cx="71.70" cy="222.10" r="2.25" fill="#2b95c9"/>
<circle cx="67.10" cy="226.00" r="2.25" fill="#2b95c9"/>
<circle cx="100.20" cy="223.80" r="2.25" fill="#2b95c9"/>
<circle cx="103.30" cy="231.50" r="2.25" fill="#2b95c9"/>
<circle cx="136.00" cy="227.90" r="2.25" fill="#2b95c9"/>
<circle cx="65.60" cy="234.20" r="2.25" fill="#2b95c9"/>
<circle cx="122.50" cy="246.50" r="2.25" fill="#2b95c9"/>
<circle cx="174.80" cy="221.70" r="2.25" fill="#2b95c9"/>
<circle cx="194.80" cy="224.00" r="2.25" fill="#2b95c9"/>
<circle cx="207.70" cy="228.80" r="2.25" fill="#2b95c9"/>
<circle cx="181.50" cy="236.50" r="2.25" fill="#2b95c9"/>
<circle cx="181.50" cy="242.70" r="2.25" fill="#2b95c9"/>
<circle cx="142.70" cy="243.30" r="2.25" fill="#2b95c9"/>
<circle cx="155.60" cy="251.50" r="2.25" fill="#2b95c9"/>
<circle cx="188.30" cy="251.30" r="2.25" fill="#2b95c9"/>
<circle cx="194.80" cy="248.70" r="2.25" fill="#2b95c9"/>
<circle cx="201.20" cy="246.50" r="2.25" fill="#2b95c9"/>
<circle cx="214.00" cy="250.40" r="2.25" fill="#2b95c9"/>
<circle cx="246.50" cy="205.20" r="2.25" fill="#2b95c9"/>
<circle cx="343.80" cy="263.20" r="2.25" fill="#2b95c9"/>
<circle cx="409.80" cy="236.20" r="2.25" fill="#2b95c9"/>
<circle cx="227.20" cy="266.90" r="2.25" fill="#2b95c9"/>
<circle cx="233.70" cy="289.10" r="2.25" fill="#2b95c9"/>
<circle cx="162.20" cy="274.50" r="2.25" fill="#2b95c9"/>
<text x="8.80" y="371.40" font-size="10" fill="#111" stroke="#111" font-weight="bold">C</text>
<line x1="41.30" y1="385.34" x2="41.30" y2="495.60" stroke="#3e3e3e" stroke-width="1.3"/>
<line x1="40.70" y1="495.00" x2="153.80" y2="495.00" stroke="#3e3e3e" stroke-width="1.3"/>
<line x1="38.70" y1="495.10" x2="41.30" y2="495.10" stroke="#3e3e3e" stroke-width="1.1"/>
<text x="35.10" y="497.60" font-size="7" fill="#2a2a2a" stroke="#2a2a2a" text-anchor="end">0</text>
<line x1="38.70" y1="481.63" x2="41.30" y2="481.63" stroke="#3e3e3e" stroke-width="1.1"/>
<text x="35.10" y="484.13" font-size="7" fill="#2a2a2a" stroke="#2a2a2a" text-anchor="end" textLength="8.3" lengthAdjust="spacingAndGlyphs">20</text>
<line x1="38.70" y1="468.16" x2="41.30" y2="468.16" stroke="#3e3e3e" stroke-width="1.1"/>
<text x="35.10" y="470.66" font-size="7" fill="#2a2a2a" stroke="#2a2a2a" text-anchor="end" textLength="8.3" lengthAdjust="spacingAndGlyphs">40</text>
<line x1="38.70" y1="454.69" x2="41.30" y2="454.69" stroke="#3e3e3e" stroke-width="1.1"/>
<text x="35.10" y="457.19" font-size="7" fill="#2a2a2a" stroke="#2a2a2a" text-anchor="end" textLength="8.3" lengthAdjust="spacingAndGlyphs">60</text>
<line x1="38.70" y1="441.22" x2="41.30" y2="441.22" stroke="#3e3e3e" stroke-width="1.1"/>
<text x="35.10" y="443.72" font-size="7" fill="#2a2a2a" stroke="#2a2a2a" text-anchor="end" textLength="8.3" lengthAdjust="spacingAndGlyphs">80</text>
<line x1="38.70" y1="427.75" x2="41.30" y2="427.75" stroke="#3e3e3e" stroke-width="1.1"/>
<text x="35.10" y="430.25" font-size="7" fill="#2a2a2a" stroke="#2a2a2a" text-anchor="end" textLength="12.4" lengthAdjust="spacingAndGlyphs">100</text>
<line x1="38.70" y1="414.28" x2="41.30" y2="414.28" stroke="#3e3e3e" stroke-width="1.1"/>
<text x="35.10" y="416.78" font-size="7" fill="#2a2a2a" stroke="#2a2a2a" text-anchor="end" textLength="12.4" lengthAdjust="spacingAndGlyphs">120</text>
<line x1="38.70" y1="400.81" x2="41.30" y2="400.81" stroke="#3e3e3e" stroke-width="1.1"/>
<text x="35.10" y="403.31" font-size="7" fill="#2a2a2a" stroke="#2a2a2a" text-anchor="end" textLength="12.4" lengthAdjust="spacingAndGlyphs">140</text>
<line x1="38.70" y1="387.34" x2="41.30" y2="387.34" stroke="#3e3e3e" stroke-width="1.1"/>
<text x="35.10" y="389.84" font-size="7" fill="#2a2a2a" stroke="#2a2a2a" text-anchor="end" textLength="12.4" lengthAdjust="spacingAndGlyphs">160</text>
<line x1="63.75" y1="495.00" x2="63.75" y2="497.60" stroke="#3e3e3e" stroke-width="1.1"/>
<line x1="97.60" y1="495.00" x2="97.60" y2="497.60" stroke="#3e3e3e" stroke-width="1.1"/>
<line x1="131.80" y1="495.00" x2="131.80" y2="497.60" stroke="#3e3e3e" stroke-width="1.1"/>
<text transform="translate(14.00,439.00) rotate(-90)" x="0" y="3.06" font-size="8.5" fill="#2a2a2a" stroke="#2a2a2a" stroke-width="0.3" text-anchor="middle" textLength="75" lengthAdjust="spacingAndGlyphs">Viable MM cells (norm %)</text>
<text x="63.80" y="508.10" font-size="8.6" fill="#2a2a2a" stroke="#2a2a2a" text-anchor="middle" textLength="16.5" lengthAdjust="spacingAndGlyphs">Dara</text>
<text x="63.80" y="517.70" font-size="8.6" fill="#2a2a2a" stroke="#2a2a2a" text-anchor="middle" textLength="19.5" lengthAdjust="spacingAndGlyphs">Naive</text>
<text x="97.70" y="508.10" font-size="8.6" fill="#2a2a2a" stroke="#2a2a2a" text-anchor="middle" textLength="27.7" lengthAdjust="spacingAndGlyphs">Off Dara</text>
<text x="97.70" y="517.70" font-size="8.6" fill="#2a2a2a" stroke="#2a2a2a" text-anchor="middle" textLength="21.5" lengthAdjust="spacingAndGlyphs">&lt;12 m</text>
<text x="131.80" y="508.10" font-size="8.6" fill="#2a2a2a" stroke="#2a2a2a" text-anchor="middle" textLength="27.7" lengthAdjust="spacingAndGlyphs">Off Dara</text>
<text x="131.80" y="517.70" font-size="8.6" fill="#2a2a2a" stroke="#2a2a2a" text-anchor="middle" textLength="21.5" lengthAdjust="spacingAndGlyphs">&gt;12 m</text>
<line x1="41.30" y1="441.50" x2="154.00" y2="441.50" stroke="#3a3a3a" stroke-width="1.0" stroke-dasharray="1,1"/>
<line x1="67.40" y1="386.90" x2="128.50" y2="386.90" stroke="#555" stroke-width="1.1"/>
<line x1="67.40" y1="399.20" x2="95.10" y2="399.20" stroke="#555" stroke-width="1.1"/>
<line x1="100.30" y1="399.20" x2="128.50" y2="399.20" stroke="#555" stroke-width="1.1"/>
<circle cx="97.70" cy="381.60" r="1.0" fill="#222"/>
<circle cx="76.20" cy="394.10" r="1.0" fill="#222"/>
<circle cx="79.97" cy="394.10" r="1.0" fill="#222"/>
<circle cx="83.73" cy="394.10" r="1.0" fill="#222"/>
<circle cx="87.50" cy="394.10" r="1.0" fill="#222"/>
<circle cx="112.30" cy="394.10" r="1.0" fill="#222"/>
<circle cx="116.50" cy="394.10" r="1.0" fill="#222"/>
<line x1="49.50" y1="459.20" x2="78.20" y2="459.20" stroke="#2a2a2a" stroke-width="1.3"/>
<rect x="60.80" y="424.80" width="3.40" height="3.40" fill="#3aa5e2" stroke="none" stroke-width="1"/>
<rect x="63.30" y="424.80" width="3.40" height="3.40" fill="#3aa5e2" stroke="none" stroke-width="1"/>
<rect x="59.80" y="427.80" width="3.40" height="3.40" fill="#3aa5e2" stroke="none" stroke-width="1"/>
<rect x="62.80" y="427.80" width="3.40" height="3.40" fill="#3aa5e2" stroke="none" stroke-width="1"/>
<rect x="65.30" y="427.80" width="3.40" height="3.40" fill="#3aa5e2" stroke="none" stroke-width="1"/>
<rect x="58.80" y="430.80" width="3.40" height="3.40" fill="#3aa5e2" stroke="none" stroke-width="1"/>
<rect x="61.80" y="430.80" width="3.40" height="3.40" fill="#3aa5e2" stroke="none" stroke-width="1"/>
<rect x="64.80" y="430.80" width="3.40" height="3.40" fill="#3aa5e2" stroke="none" stroke-width="1"/>
<rect x="59.30" y="433.80" width="3.40" height="3.40" fill="#3aa5e2" stroke="none" stroke-width="1"/>
<rect x="62.30" y="433.80" width="3.40" height="3.40" fill="#3aa5e2" stroke="none" stroke-width="1"/>
<rect x="65.30" y="433.80" width="3.40" height="3.40" fill="#3aa5e2" stroke="none" stroke-width="1"/>
<rect x="58.80" y="436.50" width="3.40" height="3.40" fill="#3aa5e2" stroke="none" stroke-width="1"/>
<rect x="61.80" y="436.50" width="3.40" height="3.40" fill="#3aa5e2" stroke="none" stroke-width="1"/>
<rect x="64.80" y="436.50" width="3.40" height="3.40" fill="#3aa5e2" stroke="none" stroke-width="1"/>
<rect x="66.80" y="436.50" width="3.40" height="3.40" fill="#3aa5e2" stroke="none" stroke-width="1"/>
<rect x="51.80" y="439.30" width="3.40" height="3.40" fill="#3aa5e2" stroke="none" stroke-width="1"/>
<rect x="54.80" y="439.30" width="3.40" height="3.40" fill="#3aa5e2" stroke="none" stroke-width="1"/>
<rect x="57.80" y="439.30" width="3.40" height="3.40" fill="#3aa5e2" stroke="none" stroke-width="1"/>
<rect x="60.80" y="439.30" width="3.40" height="3.40" fill="#3aa5e2" stroke="none" stroke-width="1"/>
<rect x="63.80" y="439.30" width="3.40" height="3.40" fill="#3aa5e2" stroke="none" stroke-width="1"/>
<rect x="66.80" y="439.30" width="3.40" height="3.40" fill="#3aa5e2" stroke="none" stroke-width="1"/>
<rect x="69.80" y="439.30" width="3.40" height="3.40" fill="#3aa5e2" stroke="none" stroke-width="1"/>
<rect x="72.30" y="439.30" width="3.40" height="3.40" fill="#3aa5e2" stroke="none" stroke-width="1"/>
<rect x="55.30" y="440.90" width="3.40" height="3.40" fill="#3aa5e2" stroke="none" stroke-width="1"/>
<rect x="58.30" y="440.90" width="3.40" height="3.40" fill="#3aa5e2" stroke="none" stroke-width="1"/>
<rect x="61.30" y="440.90" width="3.40" height="3.40" fill="#3aa5e2" stroke="none" stroke-width="1"/>
<rect x="64.30" y="440.90" width="3.40" height="3.40" fill="#3aa5e2" stroke="none" stroke-width="1"/>
<rect x="67.30" y="440.90" width="3.40" height="3.40" fill="#3aa5e2" stroke="none" stroke-width="1"/>
<rect x="70.30" y="440.90" width="3.40" height="3.40" fill="#3aa5e2" stroke="none" stroke-width="1"/>
<rect x="57.80" y="444.30" width="3.40" height="3.40" fill="#3aa5e2" stroke="none" stroke-width="1"/>
<rect x="60.80" y="444.30" width="3.40" height="3.40" fill="#3aa5e2" stroke="none" stroke-width="1"/>
<rect x="63.80" y="444.30" width="3.40" height="3.40" fill="#3aa5e2" stroke="none" stroke-width="1"/>
<rect x="67.30" y="444.30" width="3.40" height="3.40" fill="#3aa5e2" stroke="none" stroke-width="1"/>
<rect x="57.30" y="447.30" width="3.40" height="3.40" fill="#3aa5e2" stroke="none" stroke-width="1"/>
<rect x="60.30" y="447.30" width="3.40" height="3.40" fill="#3aa5e2" stroke="none" stroke-width="1"/>
<rect x="63.30" y="447.30" width="3.40" height="3.40" fill="#3aa5e2" stroke="none" stroke-width="1"/>
<rect x="66.30" y="447.30" width="3.40" height="3.40" fill="#3aa5e2" stroke="none" stroke-width="1"/>
<rect x="58.30" y="450.30" width="3.40" height="3.40" fill="#3aa5e2" stroke="none" stroke-width="1"/>
<rect x="61.30" y="450.30" width="3.40" height="3.40" fill="#3aa5e2" stroke="none" stroke-width="1"/>
<rect x="64.30" y="450.30" width="3.40" height="3.40" fill="#3aa5e2" stroke="none" stroke-width="1"/>
<rect x="67.30" y="450.30" width="3.40" height="3.40" fill="#3aa5e2" stroke="none" stroke-width="1"/>
<rect x="57.30" y="453.30" width="3.40" height="3.40" fill="#3aa5e2" stroke="none" stroke-width="1"/>
<rect x="60.30" y="453.30" width="3.40" height="3.40" fill="#3aa5e2" stroke="none" stroke-width="1"/>
<rect x="63.30" y="453.30" width="3.40" height="3.40" fill="#3aa5e2" stroke="none" stroke-width="1"/>
<rect x="66.30" y="453.30" width="3.40" height="3.40" fill="#3aa5e2" stroke="none" stroke-width="1"/>
<rect x="58.30" y="456.30" width="3.40" height="3.40" fill="#3aa5e2" stroke="none" stroke-width="1"/>
<rect x="61.30" y="456.30" width="3.40" height="3.40" fill="#3aa5e2" stroke="none" stroke-width="1"/>
<rect x="64.30" y="456.30" width="3.40" height="3.40" fill="#3aa5e2" stroke="none" stroke-width="1"/>
<rect x="57.80" y="459.30" width="3.40" height="3.40" fill="#3aa5e2" stroke="none" stroke-width="1"/>
<rect x="60.80" y="459.30" width="3.40" height="3.40" fill="#3aa5e2" stroke="none" stroke-width="1"/>
<rect x="63.80" y="459.30" width="3.40" height="3.40" fill="#3aa5e2" stroke="none" stroke-width="1"/>
<rect x="66.80" y="459.30" width="3.40" height="3.40" fill="#3aa5e2" stroke="none" stroke-width="1"/>
<rect x="57.80" y="462.30" width="3.40" height="3.40" fill="#3aa5e2" stroke="none" stroke-width="1"/>
<rect x="60.80" y="462.30" width="3.40" height="3.40" fill="#3aa5e2" stroke="none" stroke-width="1"/>
<rect x="63.80" y="462.30" width="3.40" height="3.40" fill="#3aa5e2" stroke="none" stroke-width="1"/>
<rect x="66.30" y="462.30" width="3.40" height="3.40" fill="#3aa5e2" stroke="none" stroke-width="1"/>
<rect x="58.30" y="465.30" width="3.40" height="3.40" fill="#3aa5e2" stroke="none" stroke-width="1"/>
<rect x="61.30" y="465.30" width="3.40" height="3.40" fill="#3aa5e2" stroke="none" stroke-width="1"/>
<rect x="64.30" y="465.30" width="3.40" height="3.40" fill="#3aa5e2" stroke="none" stroke-width="1"/>
<rect x="57.30" y="468.30" width="3.40" height="3.40" fill="#3aa5e2" stroke="none" stroke-width="1"/>
<rect x="60.30" y="468.30" width="3.40" height="3.40" fill="#3aa5e2" stroke="none" stroke-width="1"/>
<rect x="63.30" y="468.30" width="3.40" height="3.40" fill="#3aa5e2" stroke="none" stroke-width="1"/>
<rect x="58.30" y="471.30" width="3.40" height="3.40" fill="#3aa5e2" stroke="none" stroke-width="1"/>
<rect x="61.30" y="471.30" width="3.40" height="3.40" fill="#3aa5e2" stroke="none" stroke-width="1"/>
<rect x="64.30" y="471.30" width="3.40" height="3.40" fill="#3aa5e2" stroke="none" stroke-width="1"/>
<rect x="57.30" y="474.30" width="3.40" height="3.40" fill="#3aa5e2" stroke="none" stroke-width="1"/>
<rect x="60.30" y="474.30" width="3.40" height="3.40" fill="#3aa5e2" stroke="none" stroke-width="1"/>
<rect x="63.30" y="474.30" width="3.40" height="3.40" fill="#3aa5e2" stroke="none" stroke-width="1"/>
<rect x="58.30" y="477.30" width="3.40" height="3.40" fill="#3aa5e2" stroke="none" stroke-width="1"/>
<rect x="61.30" y="477.30" width="3.40" height="3.40" fill="#3aa5e2" stroke="none" stroke-width="1"/>
<rect x="64.30" y="477.30" width="3.40" height="3.40" fill="#3aa5e2" stroke="none" stroke-width="1"/>
<rect x="57.80" y="480.30" width="3.40" height="3.40" fill="#3aa5e2" stroke="none" stroke-width="1"/>
<rect x="60.80" y="480.30" width="3.40" height="3.40" fill="#3aa5e2" stroke="none" stroke-width="1"/>
<rect x="63.80" y="480.30" width="3.40" height="3.40" fill="#3aa5e2" stroke="none" stroke-width="1"/>
<rect x="58.30" y="483.30" width="3.40" height="3.40" fill="#3aa5e2" stroke="none" stroke-width="1"/>
<rect x="61.30" y="483.30" width="3.40" height="3.40" fill="#3aa5e2" stroke="none" stroke-width="1"/>
<rect x="64.30" y="483.30" width="3.40" height="3.40" fill="#3aa5e2" stroke="none" stroke-width="1"/>
<rect x="58.80" y="486.30" width="3.40" height="3.40" fill="#3aa5e2" stroke="none" stroke-width="1"/>
<rect x="61.80" y="486.30" width="3.40" height="3.40" fill="#3aa5e2" stroke="none" stroke-width="1"/>
<rect x="64.30" y="486.30" width="3.40" height="3.40" fill="#3aa5e2" stroke="none" stroke-width="1"/>
<rect x="59.30" y="489.30" width="3.40" height="3.40" fill="#3aa5e2" stroke="none" stroke-width="1"/>
<rect x="62.30" y="489.30" width="3.40" height="3.40" fill="#3aa5e2" stroke="none" stroke-width="1"/>
<rect x="64.80" y="489.30" width="3.40" height="3.40" fill="#3aa5e2" stroke="none" stroke-width="1"/>
<rect x="60.30" y="492.30" width="3.40" height="3.40" fill="#3aa5e2" stroke="none" stroke-width="1"/>
<rect x="63.30" y="492.30" width="3.40" height="3.40" fill="#3aa5e2" stroke="none" stroke-width="1"/>
<line x1="58.00" y1="439.60" x2="63.50" y2="439.60" stroke="#2a2a2a" stroke-width="1.2"/>
<line x1="64.00" y1="478.80" x2="70.00" y2="478.80" stroke="#2a2a2a" stroke-width="1.2"/>
<path d="M97.50,390.15 L99.40,393.57 L95.60,393.57 Z" fill="#2f95c2"/>
<path d="M97.70,401.45 L99.60,404.87 L95.80,404.87 Z" fill="#2f95c2"/>
<path d="M93.20,406.05 L95.10,409.47 L91.30,409.47 Z" fill="#2f95c2"/>
<path d="M102.30,405.25 L104.20,408.67 L100.40,408.67 Z" fill="#2f95c2"/>
<path d="M97.50,414.75 L99.40,418.17 L95.60,418.17 Z" fill="#2f95c2"/>
<path d="M93.30,419.05 L95.20,422.47 L91.40,422.47 Z" fill="#2f95c2"/>
<path d="M102.10,419.05 L104.00,422.47 L100.20,422.47 Z" fill="#2f95c2"/>
<path d="M93.30,423.45 L95.20,426.87 L91.40,426.87 Z" fill="#2f95c2"/>
<path d="M102.10,423.45 L104.00,426.87 L100.20,426.87 Z" fill="#2f95c2"/>
<path d="M106.70,423.45 L108.60,426.87 L104.80,426.87 Z" fill="#2f95c2"/>
<path d="M97.50,428.05 L99.40,431.47 L95.60,431.47 Z" fill="#2f95c2"/>
<path d="M102.10,427.55 L104.00,430.97 L100.20,430.97 Z" fill="#2f95c2"/>
<path d="M88.50,431.55 L90.40,434.97 L86.60,434.97 Z" fill="#2f95c2"/>
<path d="M93.30,431.55 L95.20,434.97 L91.40,434.97 Z" fill="#2f95c2"/>
<path d="M97.50,434.05 L99.40,437.47 L95.60,437.47 Z" fill="#2f95c2"/>
<path d="M102.10,433.25 L104.00,436.67 L100.20,436.67 Z" fill="#2f95c2"/>
<path d="M106.70,434.05 L108.60,437.47 L104.80,437.47 Z" fill="#2f95c2"/>
<path d="M93.30,436.65 L95.20,440.07 L91.40,440.07 Z" fill="#2f95c2"/>
<path d="M102.10,437.45 L104.00,440.87 L100.20,440.87 Z" fill="#2f95c2"/>
<path d="M97.50,438.35 L99.40,441.77 L95.60,441.77 Z" fill="#2f95c2"/>
<path d="M97.50,446.85 L99.40,450.27 L95.60,450.27 Z" fill="#2f95c2"/>
<path d="M97.50,422.95 L99.40,426.37 L95.60,426.37 Z" fill="#2f95c2"/>
<line x1="97.60" y1="410.90" x2="97.60" y2="440.00" stroke="#2a2a2a" stroke-width="1.2"/>
<line x1="83.40" y1="425.50" x2="111.90" y2="425.50" stroke="#2a2a2a" stroke-width="1.2"/>
<line x1="92.60" y1="410.90" x2="103.40" y2="410.90" stroke="#2a2a2a" stroke-width="1.1"/>
<line x1="92.60" y1="439.90" x2="103.40" y2="439.90" stroke="#2a2a2a" stroke-width="1.1"/>
<circle cx="131.80" cy="423.10" r="1.9" fill="#2f95c2"/>
<circle cx="126.70" cy="434.80" r="1.9" fill="#2f95c2"/>
<circle cx="131.80" cy="432.70" r="1.9" fill="#2f95c2"/>
<circle cx="131.80" cy="437.80" r="1.9" fill="#2f95c2"/>
<circle cx="126.70" cy="442.40" r="1.9" fill="#2f95c2"/>
<circle cx="131.80" cy="442.40" r="1.9" fill="#2f95c2"/>
<circle cx="136.40" cy="445.20" r="1.9" fill="#2f95c2"/>
<circle cx="141.30" cy="448.00" r="1.9" fill="#2f95c2"/>
<circle cx="122.20" cy="449.70" r="1.9" fill="#2f95c2"/>
<circle cx="126.70" cy="451.10" r="1.9" fill="#2f95c2"/>
<circle cx="131.80" cy="450.30" r="1.9" fill="#2f95c2"/>
<circle cx="136.40" cy="451.10" r="1.9" fill="#2f95c2"/>
<circle cx="136.40" cy="457.70" r="1.9" fill="#2f95c2"/>
<circle cx="131.80" cy="460.50" r="1.9" fill="#2f95c2"/>
<circle cx="131.80" cy="464.70" r="1.9" fill="#2f95c2"/>
<circle cx="131.80" cy="473.60" r="1.9" fill="#2f95c2"/>
<line x1="131.80" y1="435.30" x2="131.80" y2="460.20" stroke="#2a2a2a" stroke-width="1.2"/>
<line x1="117.10" y1="447.70" x2="146.00" y2="447.70" stroke="#2a2a2a" stroke-width="1.2"/>
<line x1="128.40" y1="435.30" x2="138.00" y2="435.30" stroke="#2a2a2a" stroke-width="1.1"/>
<line x1="126.20" y1="460.20" x2="136.40" y2="460.20" stroke="#2a2a2a" stroke-width="1.1"/>
<text x="163.30" y="371.40" font-size="10" fill="#111" stroke="#111" font-weight="bold">D</text>
<line x1="200.20" y1="384.80" x2="200.20" y2="496.10" stroke="#3e3e3e" stroke-width="1.3"/>
<line x1="199.60" y1="495.50" x2="311.50" y2="495.50" stroke="#3e3e3e" stroke-width="1.3"/>
<line x1="198.60" y1="495.30" x2="200.20" y2="495.30" stroke="#3e3e3e" stroke-width="0.9"/>
<line x1="198.60" y1="491.46" x2="200.20" y2="491.46" stroke="#3e3e3e" stroke-width="0.9"/>
<line x1="198.60" y1="488.47" x2="200.20" y2="488.47" stroke="#3e3e3e" stroke-width="0.9"/>
<line x1="198.60" y1="486.03" x2="200.20" y2="486.03" stroke="#3e3e3e" stroke-width="0.9"/>
<line x1="198.60" y1="483.97" x2="200.20" y2="483.97" stroke="#3e3e3e" stroke-width="0.9"/>
<line x1="198.60" y1="482.18" x2="200.20" y2="482.18" stroke="#3e3e3e" stroke-width="0.9"/>
<line x1="198.60" y1="480.61" x2="200.20" y2="480.61" stroke="#3e3e3e" stroke-width="0.9"/>
<line x1="198.60" y1="469.93" x2="200.20" y2="469.93" stroke="#3e3e3e" stroke-width="0.9"/>
<line x1="198.60" y1="464.50" x2="200.20" y2="464.50" stroke="#3e3e3e" stroke-width="0.9"/>
<line x1="198.60" y1="460.66" x2="200.20" y2="460.66" stroke="#3e3e3e" stroke-width="0.9"/>
<line x1="198.60" y1="457.67" x2="200.20" y2="457.67" stroke="#3e3e3e" stroke-width="0.9"/>
<line x1="198.60" y1="455.23" x2="200.20" y2="455.23" stroke="#3e3e3e" stroke-width="0.9"/>
<line x1="198.60" y1="453.17" x2="200.20" y2="453.17" stroke="#3e3e3e" stroke-width="0.9"/>
<line x1="198.60" y1="451.38" x2="200.20" y2="451.38" stroke="#3e3e3e" stroke-width="0.9"/>
<line x1="198.60" y1="449.81" x2="200.20" y2="449.81" stroke="#3e3e3e" stroke-width="0.9"/>
<line x1="198.60" y1="439.13" x2="200.20" y2="439.13" stroke="#3e3e3e" stroke-width="0.9"/>
<line x1="198.60" y1="433.70" x2="200.20" y2="433.70" stroke="#3e3e3e" stroke-width="0.9"/>
<line x1="198.60" y1="429.86" x2="200.20" y2="429.86" stroke="#3e3e3e" stroke-width="0.9"/>
<line x1="198.60" y1="426.87" x2="200.20" y2="426.87" stroke="#3e3e3e" stroke-width="0.9"/>
<line x1="198.60" y1="424.43" x2="200.20" y2="424.43" stroke="#3e3e3e" stroke-width="0.9"/>
<line x1="198.60" y1="422.37" x2="200.20" y2="422.37" stroke="#3e3e3e" stroke-width="0.9"/>
<line x1="198.60" y1="420.58" x2="200.20" y2="420.58" stroke="#3e3e3e" stroke-width="0.9"/>
<line x1="198.60" y1="419.01" x2="200.20" y2="419.01" stroke="#3e3e3e" stroke-width="0.9"/>
<line x1="198.60" y1="408.33" x2="200.20" y2="408.33" stroke="#3e3e3e" stroke-width="0.9"/>
<line x1="198.60" y1="402.90" x2="200.20" y2="402.90" stroke="#3e3e3e" stroke-width="0.9"/>
<line x1="198.60" y1="399.06" x2="200.20" y2="399.06" stroke="#3e3e3e" stroke-width="0.9"/>
<line x1="198.60" y1="396.07" x2="200.20" y2="396.07" stroke="#3e3e3e" stroke-width="0.9"/>
<line x1="198.60" y1="393.63" x2="200.20" y2="393.63" stroke="#3e3e3e" stroke-width="0.9"/>
<line x1="198.60" y1="391.57" x2="200.20" y2="391.57" stroke="#3e3e3e" stroke-width="0.9"/>
<line x1="198.60" y1="389.78" x2="200.20" y2="389.78" stroke="#3e3e3e" stroke-width="0.9"/>
<line x1="198.60" y1="388.21" x2="200.20" y2="388.21" stroke="#3e3e3e" stroke-width="0.9"/>
<line x1="197.60" y1="386.80" x2="200.20" y2="386.80" stroke="#3e3e3e" stroke-width="1.1"/>
<text x="194.20" y="389.30" font-size="7.2" fill="#2a2a2a" stroke="#2a2a2a" text-anchor="end" textLength="16.8" lengthAdjust="spacingAndGlyphs">1000</text>
<line x1="197.60" y1="417.60" x2="200.20" y2="417.60" stroke="#3e3e3e" stroke-width="1.1"/>
<text x="194.20" y="420.10" font-size="7.2" fill="#2a2a2a" stroke="#2a2a2a" text-anchor="end" textLength="13.1" lengthAdjust="spacingAndGlyphs">100</text>
<line x1="197.60" y1="448.40" x2="200.20" y2="448.40" stroke="#3e3e3e" stroke-width="1.1"/>
<text x="194.20" y="450.90" font-size="7.2" fill="#2a2a2a" stroke="#2a2a2a" text-anchor="end" textLength="8.7" lengthAdjust="spacingAndGlyphs">10</text>
<line x1="197.60" y1="479.20" x2="200.20" y2="479.20" stroke="#3e3e3e" stroke-width="1.1"/>
<text x="194.20" y="481.70" font-size="7.2" fill="#2a2a2a" stroke="#2a2a2a" text-anchor="end">1</text>
<line x1="222.30" y1="495.50" x2="222.30" y2="498.10" stroke="#3e3e3e" stroke-width="1.1"/>
<line x1="256.20" y1="495.50" x2="256.20" y2="498.10" stroke="#3e3e3e" stroke-width="1.1"/>
<line x1="289.80" y1="495.50" x2="289.80" y2="498.10" stroke="#3e3e3e" stroke-width="1.1"/>
<text transform="translate(168.20,439.60) rotate(-90)" x="0" y="3.06" font-size="8.5" fill="#2a2a2a" stroke="#2a2a2a" stroke-width="0.3" text-anchor="middle" textLength="73" lengthAdjust="spacingAndGlyphs">CD38 MFI (MM/non-MM)</text>
<text x="222.30" y="508.10" font-size="8.6" fill="#2a2a2a" stroke="#2a2a2a" text-anchor="middle" textLength="16.5" lengthAdjust="spacingAndGlyphs">Dara</text>
<text x="222.30" y="517.70" font-size="8.6" fill="#2a2a2a" stroke="#2a2a2a" text-anchor="middle" textLength="19.5" lengthAdjust="spacingAndGlyphs">Naive</text>
<text x="256.20" y="508.10" font-size="8.6" fill="#2a2a2a" stroke="#2a2a2a" text-anchor="middle" textLength="27.7" lengthAdjust="spacingAndGlyphs">Off Dara</text>
<text x="256.20" y="517.70" font-size="8.6" fill="#2a2a2a" stroke="#2a2a2a" text-anchor="middle" textLength="21.5" lengthAdjust="spacingAndGlyphs">&lt;12 m</text>
<text x="289.80" y="508.10" font-size="8.6" fill="#2a2a2a" stroke="#2a2a2a" text-anchor="middle" textLength="27.7" lengthAdjust="spacingAndGlyphs">Off Dara</text>
<text x="289.80" y="517.70" font-size="8.6" fill="#2a2a2a" stroke="#2a2a2a" text-anchor="middle" textLength="21.5" lengthAdjust="spacingAndGlyphs">&gt;12 m</text>
<line x1="222.30" y1="374.70" x2="290.00" y2="374.70" stroke="#555" stroke-width="1.1"/>
<line x1="222.30" y1="387.30" x2="253.50" y2="387.30" stroke="#555" stroke-width="1.1"/>
<line x1="258.80" y1="387.30" x2="290.00" y2="387.30" stroke="#555" stroke-width="1.1"/>
<circle cx="256.20" cy="370.40" r="1.0" fill="#222"/>
<circle cx="232.80" cy="383.40" r="1.0" fill="#222"/>
<circle cx="236.70" cy="383.40" r="1.0" fill="#222"/>
<circle cx="240.60" cy="383.40" r="1.0" fill="#222"/>
<text x="274.00" y="384.80" font-size="9" fill="#2a2a2a" stroke="#2a2a2a" text-anchor="middle" textLength="9.5" lengthAdjust="spacingAndGlyphs">ns</text>
<rect x="220.60" y="405.80" width="3.40" height="3.40" fill="#3aa5e2" stroke="none" stroke-width="1"/>
<rect x="215.20" y="411.80" width="3.40" height="3.40" fill="#3aa5e2" stroke="none" stroke-width="1"/>
<rect x="225.80" y="411.80" width="3.40" height="3.40" fill="#3aa5e2" stroke="none" stroke-width="1"/>
<rect x="216.80" y="415.80" width="3.40" height="3.40" fill="#3aa5e2" stroke="none" stroke-width="1"/>
<rect x="221.00" y="415.80" width="3.40" height="3.40" fill="#3aa5e2" stroke="none" stroke-width="1"/>
<rect x="225.80" y="417.50" width="3.40" height="3.40" fill="#3aa5e2" stroke="none" stroke-width="1"/>
<rect x="214.30" y="419.10" width="3.40" height="3.40" fill="#3aa5e2" stroke="none" stroke-width="1"/>
<rect x="219.10" y="419.10" width="3.40" height="3.40" fill="#3aa5e2" stroke="none" stroke-width="1"/>
<rect x="223.90" y="419.10" width="3.40" height="3.40" fill="#3aa5e2" stroke="none" stroke-width="1"/>
<rect x="211.80" y="422.90" width="3.40" height="3.40" fill="#3aa5e2" stroke="none" stroke-width="1"/>
<rect x="216.30" y="422.90" width="3.40" height="3.40" fill="#3aa5e2" stroke="none" stroke-width="1"/>
<rect x="225.30" y="422.90" width="3.40" height="3.40" fill="#3aa5e2" stroke="none" stroke-width="1"/>
<rect x="230.20" y="422.90" width="3.40" height="3.40" fill="#3aa5e2" stroke="none" stroke-width="1"/>
<rect x="208.80" y="424.80" width="3.40" height="3.40" fill="#3aa5e2" stroke="none" stroke-width="1"/>
<rect x="220.80" y="424.80" width="3.40" height="3.40" fill="#3aa5e2" stroke="none" stroke-width="1"/>
<rect x="233.30" y="424.80" width="3.40" height="3.40" fill="#3aa5e2" stroke="none" stroke-width="1"/>
<rect x="211.00" y="427.30" width="3.40" height="3.40" fill="#3aa5e2" stroke="none" stroke-width="1"/>
<rect x="215.30" y="427.30" width="3.40" height="3.40" fill="#3aa5e2" stroke="none" stroke-width="1"/>
<rect x="219.10" y="427.30" width="3.40" height="3.40" fill="#3aa5e2" stroke="none" stroke-width="1"/>
<rect x="223.90" y="427.30" width="3.40" height="3.40" fill="#3aa5e2" stroke="none" stroke-width="1"/>
<rect x="227.10" y="427.30" width="3.40" height="3.40" fill="#3aa5e2" stroke="none" stroke-width="1"/>
<rect x="219.10" y="434.10" width="3.40" height="3.40" fill="#3aa5e2" stroke="none" stroke-width="1"/>
<rect x="222.00" y="436.00" width="3.40" height="3.40" fill="#3aa5e2" stroke="none" stroke-width="1"/>
<rect x="214.30" y="440.80" width="3.40" height="3.40" fill="#3aa5e2" stroke="none" stroke-width="1"/>
<rect x="220.60" y="441.80" width="3.40" height="3.40" fill="#3aa5e2" stroke="none" stroke-width="1"/>
<rect x="215.20" y="444.60" width="3.40" height="3.40" fill="#3aa5e2" stroke="none" stroke-width="1"/>
<rect x="222.50" y="444.60" width="3.40" height="3.40" fill="#3aa5e2" stroke="none" stroke-width="1"/>
<rect x="218.80" y="447.30" width="3.40" height="3.40" fill="#3aa5e2" stroke="none" stroke-width="1"/>
<rect x="218.10" y="454.60" width="3.40" height="3.40" fill="#3aa5e2" stroke="none" stroke-width="1"/>
<rect x="222.30" y="457.30" width="3.40" height="3.40" fill="#3aa5e2" stroke="none" stroke-width="1"/>
<rect x="220.60" y="480.00" width="3.40" height="3.40" fill="#3aa5e2" stroke="none" stroke-width="1"/>
<line x1="207.80" y1="424.80" x2="236.70" y2="424.80" stroke="#2a2a2a" stroke-width="1.3"/>
<line x1="216.70" y1="454.80" x2="228.30" y2="454.80" stroke="#2a2a2a" stroke-width="1.2"/>
<line x1="222.30" y1="424.80" x2="222.30" y2="454.80" stroke="#2a2a2a" stroke-width="1.1"/>
<path d="M253.30,433.30 L255.15,436.63 L251.45,436.63 Z" fill="#2f95c2"/>
<path d="M258.40,432.30 L260.25,435.63 L256.55,435.63 Z" fill="#2f95c2"/>
<path d="M253.30,437.90 L255.15,441.23 L251.45,441.23 Z" fill="#2f95c2"/>
<path d="M259.40,437.90 L261.25,441.23 L257.55,441.23 Z" fill="#2f95c2"/>
<path d="M246.50,446.40 L248.35,449.73 L244.65,449.73 Z" fill="#2f95c2"/>
<path d="M251.60,449.30 L253.45,452.63 L249.75,452.63 Z" fill="#2f95c2"/>
<path d="M256.20,447.60 L258.05,450.93 L254.35,450.93 Z" fill="#2f95c2"/>
<path d="M261.00,447.00 L262.85,450.33 L259.15,450.33 Z" fill="#2f95c2"/>
<path d="M265.30,446.00 L267.15,449.33 L263.45,449.33 Z" fill="#2f95c2"/>
<path d="M246.50,454.10 L248.35,457.43 L244.65,457.43 Z" fill="#2f95c2"/>
<path d="M251.60,457.90 L253.45,461.23 L249.75,461.23 Z" fill="#2f95c2"/>
<path d="M256.20,455.00 L258.05,458.33 L254.35,458.33 Z" fill="#2f95c2"/>
<path d="M260.50,457.50 L262.35,460.83 L258.65,460.83 Z" fill="#2f95c2"/>
<path d="M265.30,455.80 L267.15,459.13 L263.45,459.13 Z" fill="#2f95c2"/>
<path d="M256.20,461.80 L258.05,465.13 L254.35,465.13 Z" fill="#2f95c2"/>
<path d="M256.20,466.90 L258.05,470.23 L254.35,470.23 Z" fill="#2f95c2"/>
<path d="M256.20,478.00 L258.05,481.33 L254.35,481.33 Z" fill="#2f95c2"/>
<line x1="256.20" y1="440.30" x2="256.20" y2="490.70" stroke="#2a2a2a" stroke-width="1.2"/>
<line x1="241.70" y1="449.60" x2="270.40" y2="449.60" stroke="#2a2a2a" stroke-width="1.2"/>
<line x1="250.80" y1="440.30" x2="262.20" y2="440.30" stroke="#2a2a2a" stroke-width="1.1"/>
<line x1="250.80" y1="490.70" x2="262.20" y2="490.70" stroke="#2a2a2a" stroke-width="1.1"/>
<circle cx="290.00" cy="412.70" r="2.0" fill="#2f95c2"/>
<circle cx="290.00" cy="421.20" r="2.0" fill="#2f95c2"/>
<circle cx="290.00" cy="431.90" r="2.0" fill="#2f95c2"/>
<circle cx="284.80" cy="436.50" r="2.0" fill="#2f95c2"/>
<circle cx="296.60" cy="438.20" r="2.0" fill="#2f95c2"/>
<circle cx="284.80" cy="441.60" r="2.0" fill="#2f95c2"/>
<circle cx="290.00" cy="440.40" r="2.0" fill="#2f95c2"/>
<circle cx="296.60" cy="444.50" r="2.0" fill="#2f95c2"/>
<circle cx="280.60" cy="451.80" r="2.0" fill="#2f95c2"/>
<circle cx="285.40" cy="450.70" r="2.0" fill="#2f95c2"/>
<circle cx="290.00" cy="450.70" r="2.0" fill="#2f95c2"/>
<circle cx="296.60" cy="451.30" r="2.0" fill="#2f95c2"/>
<circle cx="301.00" cy="451.30" r="2.0" fill="#2f95c2"/>
<circle cx="290.00" cy="454.70" r="2.0" fill="#2f95c2"/>
<circle cx="290.00" cy="463.80" r="2.0" fill="#2f95c2"/>
<line x1="290.00" y1="423.70" x2="290.00" y2="435.70" stroke="#2a2a2a" stroke-width="1.2"/>
<line x1="275.50" y1="435.70" x2="304.10" y2="435.70" stroke="#2a2a2a" stroke-width="1.2"/>
<line x1="284.30" y1="423.70" x2="295.60" y2="423.70" stroke="#2a2a2a" stroke-width="1.1"/>
<text x="321.80" y="371.40" font-size="10" fill="#111" stroke="#111" font-weight="bold">E</text>
<rect x="354.20" y="387.30" width="38.50" height="54.10" fill="#e8988a" stroke="none" stroke-width="1"/>
<rect x="392.10" y="387.30" width="74.60" height="54.10" fill="#cc1130" stroke="none" stroke-width="1"/>
<rect x="392.10" y="440.80" width="74.60" height="53.50" fill="#3aa63a" stroke="none" stroke-width="1"/>
<line x1="392.10" y1="387.30" x2="392.10" y2="494.30" stroke="#222" stroke-width="0.9" stroke-dasharray="1,1"/>
<line x1="354.20" y1="440.80" x2="466.70" y2="440.80" stroke="#5a1a1a" stroke-width="0.9" stroke-dasharray="1,1"/>
<line x1="354.20" y1="385.30" x2="354.20" y2="494.90" stroke="#3e3e3e" stroke-width="1.3"/>
<line x1="353.60" y1="494.30" x2="466.70" y2="494.30" stroke="#3e3e3e" stroke-width="1.3"/>
<line x1="351.60" y1="494.30" x2="354.20" y2="494.30" stroke="#3e3e3e" stroke-width="1.1"/>
<text x="348.60" y="496.80" font-size="7" fill="#2a2a2a" stroke="#2a2a2a" text-anchor="end">0</text>
<line x1="351.60" y1="480.93" x2="354.20" y2="480.93" stroke="#3e3e3e" stroke-width="1.1"/>
<text x="348.60" y="483.43" font-size="7" fill="#2a2a2a" stroke="#2a2a2a" text-anchor="end" textLength="9.0" lengthAdjust="spacingAndGlyphs">20</text>
<line x1="351.60" y1="467.55" x2="354.20" y2="467.55" stroke="#3e3e3e" stroke-width="1.1"/>
<text x="348.60" y="470.05" font-size="7" fill="#2a2a2a" stroke="#2a2a2a" text-anchor="end" textLength="9.0" lengthAdjust="spacingAndGlyphs">40</text>
<line x1="351.60" y1="454.18" x2="354.20" y2="454.18" stroke="#3e3e3e" stroke-width="1.1"/>
<text x="348.60" y="456.68" font-size="7" fill="#2a2a2a" stroke="#2a2a2a" text-anchor="end" textLength="9.0" lengthAdjust="spacingAndGlyphs">60</text>
<line x1="351.60" y1="440.80" x2="354.20" y2="440.80" stroke="#3e3e3e" stroke-width="1.1"/>
<text x="348.60" y="443.30" font-size="7" fill="#2a2a2a" stroke="#2a2a2a" text-anchor="end" textLength="9.0" lengthAdjust="spacingAndGlyphs">80</text>
<line x1="351.60" y1="427.43" x2="354.20" y2="427.43" stroke="#3e3e3e" stroke-width="1.1"/>
<text x="348.60" y="429.93" font-size="7" fill="#2a2a2a" stroke="#2a2a2a" text-anchor="end" textLength="13.6" lengthAdjust="spacingAndGlyphs">100</text>
<line x1="351.60" y1="414.05" x2="354.20" y2="414.05" stroke="#3e3e3e" stroke-width="1.1"/>
<text x="348.60" y="416.55" font-size="7" fill="#2a2a2a" stroke="#2a2a2a" text-anchor="end" textLength="13.6" lengthAdjust="spacingAndGlyphs">120</text>
<line x1="351.60" y1="400.68" x2="354.20" y2="400.68" stroke="#3e3e3e" stroke-width="1.1"/>
<text x="348.60" y="403.18" font-size="7" fill="#2a2a2a" stroke="#2a2a2a" text-anchor="end" textLength="13.6" lengthAdjust="spacingAndGlyphs">140</text>
<line x1="351.60" y1="387.30" x2="354.20" y2="387.30" stroke="#3e3e3e" stroke-width="1.1"/>
<text x="348.60" y="389.80" font-size="7" fill="#2a2a2a" stroke="#2a2a2a" text-anchor="end" textLength="13.6" lengthAdjust="spacingAndGlyphs">160</text>
<line x1="353.80" y1="494.30" x2="353.80" y2="496.70" stroke="#3e3e3e" stroke-width="1.1"/>
<line x1="368.55" y1="494.30" x2="368.55" y2="495.60" stroke="#3e3e3e" stroke-width="0.8"/>
<line x1="377.18" y1="494.30" x2="377.18" y2="495.60" stroke="#3e3e3e" stroke-width="0.8"/>
<line x1="383.30" y1="494.30" x2="383.30" y2="495.60" stroke="#3e3e3e" stroke-width="0.8"/>
<line x1="388.05" y1="494.30" x2="388.05" y2="495.60" stroke="#3e3e3e" stroke-width="0.8"/>
<line x1="391.93" y1="494.30" x2="391.93" y2="495.60" stroke="#3e3e3e" stroke-width="0.8"/>
<line x1="395.21" y1="494.30" x2="395.21" y2="495.60" stroke="#3e3e3e" stroke-width="0.8"/>
<line x1="398.05" y1="494.30" x2="398.05" y2="495.60" stroke="#3e3e3e" stroke-width="0.8"/>
<line x1="400.56" y1="494.30" x2="400.56" y2="495.60" stroke="#3e3e3e" stroke-width="0.8"/>
<line x1="402.80" y1="494.30" x2="402.80" y2="496.70" stroke="#3e3e3e" stroke-width="1.1"/>
<line x1="417.55" y1="494.30" x2="417.55" y2="495.60" stroke="#3e3e3e" stroke-width="0.8"/>
<line x1="426.18" y1="494.30" x2="426.18" y2="495.60" stroke="#3e3e3e" stroke-width="0.8"/>
<line x1="432.30" y1="494.30" x2="432.30" y2="495.60" stroke="#3e3e3e" stroke-width="0.8"/>
<line x1="437.05" y1="494.30" x2="437.05" y2="495.60" stroke="#3e3e3e" stroke-width="0.8"/>
<line x1="440.93" y1="494.30" x2="440.93" y2="495.60" stroke="#3e3e3e" stroke-width="0.8"/>
<line x1="444.21" y1="494.30" x2="444.21" y2="495.60" stroke="#3e3e3e" stroke-width="0.8"/>
<line x1="447.05" y1="494.30" x2="447.05" y2="495.60" stroke="#3e3e3e" stroke-width="0.8"/>
<line x1="449.56" y1="494.30" x2="449.56" y2="495.60" stroke="#3e3e3e" stroke-width="0.8"/>
<line x1="451.80" y1="494.30" x2="451.80" y2="496.70" stroke="#3e3e3e" stroke-width="1.1"/>
<line x1="466.55" y1="494.30" x2="466.55" y2="495.60" stroke="#3e3e3e" stroke-width="0.8"/>
<text x="353.80" y="507.20" font-size="7.5" fill="#2a2a2a" stroke="#2a2a2a" text-anchor="middle">1</text>
<text x="391.93" y="507.20" font-size="7.5" fill="#2a2a2a" stroke="#2a2a2a" text-anchor="middle">6</text>
<text x="402.80" y="507.20" font-size="7.5" fill="#2a2a2a" stroke="#2a2a2a" text-anchor="middle" textLength="8.8" lengthAdjust="spacingAndGlyphs">10</text>
<text x="451.80" y="507.20" font-size="7.5" fill="#2a2a2a" stroke="#2a2a2a" text-anchor="middle" textLength="13.2" lengthAdjust="spacingAndGlyphs">100</text>
<text x="410.20" y="519.30" font-size="8.6" fill="#2a2a2a" stroke="#2a2a2a" text-anchor="middle" textLength="74" lengthAdjust="spacingAndGlyphs">CD38 MFI (MM/non-MM)</text>
<text transform="translate(326.00,439.00) rotate(-90)" x="0" y="3.06" font-size="8.5" fill="#2a2a2a" stroke="#2a2a2a" stroke-width="0.3" text-anchor="middle" textLength="75" lengthAdjust="spacingAndGlyphs">Viable MM cells (norm %)</text>
<text x="369.00" y="370.20" font-size="8" fill="#2a2a2a" stroke="#2a2a2a" text-anchor="middle" textLength="37.9" lengthAdjust="spacingAndGlyphs">Low CD38,</text>
<text x="369.00" y="378.90" font-size="8" fill="#2a2a2a" stroke="#2a2a2a" text-anchor="middle" textLength="35" lengthAdjust="spacingAndGlyphs">resistance</text>
<line x1="370.40" y1="382.90" x2="375.40" y2="390.60" stroke="#222" stroke-width="0.9"/>
<text x="490.40" y="390.50" font-size="8" fill="#2a2a2a" stroke="#2a2a2a" text-anchor="middle" textLength="40.4" lengthAdjust="spacingAndGlyphs">High CD38,</text>
<text x="490.40" y="400.00" font-size="8" fill="#2a2a2a" stroke="#2a2a2a" text-anchor="middle" textLength="16.2" lengthAdjust="spacingAndGlyphs">other</text>
<text x="490.40" y="409.10" font-size="8" fill="#2a2a2a" stroke="#2a2a2a" text-anchor="middle" textLength="41.4" lengthAdjust="spacingAndGlyphs">mechanisms</text>
<text x="490.40" y="418.50" font-size="8" fill="#2a2a2a" stroke="#2a2a2a" text-anchor="middle" textLength="43.1" lengthAdjust="spacingAndGlyphs">of resistance</text>
<line x1="472.90" y1="392.80" x2="460.80" y2="399.00" stroke="#222" stroke-width="0.9"/>
<text x="472.90" y="450.30" font-size="8" fill="#2a2a2a" stroke="#2a2a2a" textLength="40.4" lengthAdjust="spacingAndGlyphs">High CD38,</text>
<text x="472.90" y="458.90" font-size="8" fill="#2a2a2a" stroke="#2a2a2a" textLength="28.3" lengthAdjust="spacingAndGlyphs">sensitive</text>
<line x1="471.50" y1="451.50" x2="459.40" y2="457.50" stroke="#222" stroke-width="0.9"/>
<circle cx="387.30" cy="391.60" r="2.1" fill="#111"/>
<circle cx="404.00" cy="403.00" r="2.1" fill="#111"/>
<circle cx="402.10" cy="408.10" r="2.1" fill="#111"/>
<circle cx="427.70" cy="416.10" r="2.1" fill="#111"/>
<circle cx="404.40" cy="420.90" r="2.1" fill="#111"/>
<circle cx="373.20" cy="423.10" r="2.1" fill="#111"/>
<circle cx="385.30" cy="424.80" r="2.1" fill="#111"/>
<circle cx="391.30" cy="423.40" r="2.1" fill="#111"/>
<circle cx="390.70" cy="428.90" r="2.1" fill="#111"/>
<circle cx="399.60" cy="428.00" r="2.1" fill="#111"/>
<circle cx="405.60" cy="431.60" r="2.1" fill="#111"/>
<circle cx="381.40" cy="435.30" r="2.1" fill="#111"/>
<circle cx="391.30" cy="436.50" r="2.1" fill="#111"/>
<circle cx="420.50" cy="434.50" r="2.1" fill="#111"/>
<circle cx="423.90" cy="433.10" r="2.1" fill="#111"/>
<circle cx="426.50" cy="434.10" r="2.1" fill="#111"/>
<circle cx="418.80" cy="439.20" r="2.1" fill="#111"/>
<circle cx="384.80" cy="441.80" r="2.1" fill="#111"/>
<circle cx="389.60" cy="440.40" r="2.1" fill="#111"/>
<circle cx="379.70" cy="445.20" r="2.1" fill="#111"/>
<circle cx="399.80" cy="441.80" r="2.1" fill="#111"/>
<circle cx="398.40" cy="448.10" r="2.1" fill="#111"/>
<circle cx="400.10" cy="450.10" r="2.1" fill="#111"/>
<circle cx="401.00" cy="448.90" r="2.1" fill="#111"/>
<circle cx="410.30" cy="449.30" r="2.1" fill="#111"/>
<circle cx="417.10" cy="450.10" r="2.1" fill="#111"/>
<circle cx="418.80" cy="448.10" r="2.1" fill="#111"/>
<circle cx="430.70" cy="445.50" r="2.1" fill="#111"/>
<circle cx="414.60" cy="457.80" r="2.1" fill="#111"/>
<circle cx="397.60" cy="460.00" r="2.1" fill="#111"/>
<circle cx="394.50" cy="464.60" r="2.1" fill="#111"/>
<circle cx="448.70" cy="473.10" r="2.1" fill="#111"/>
<circle cx="460.80" cy="437.30" r="2.1" fill="#111"/>
<rect x="0.5" y="0.5" width="519" height="528" fill="none" stroke="#4e4e4e" stroke-width="1"/>
</svg></body></html>
